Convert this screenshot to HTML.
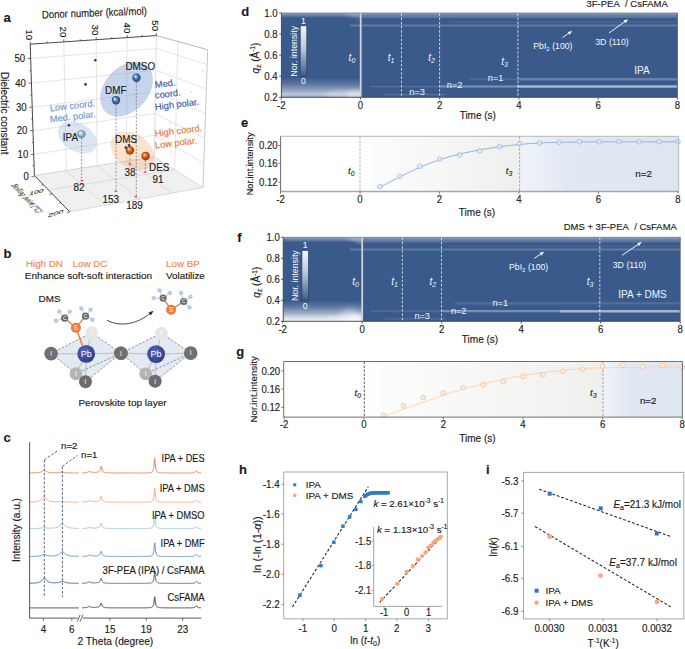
<!DOCTYPE html>
<html><head><meta charset="utf-8"><style>
html,body{margin:0;padding:0;background:#fff;overflow:hidden;width:685px;height:649px;}
svg{display:block;font-family:"Liberation Sans", sans-serif;}

</style></head><body>
<svg width="685" height="649" viewBox="0 0 685 649">
<defs>
<linearGradient id="cbar" x1="0" y1="0" x2="0" y2="1"><stop offset="0" stop-color="#f2f5fa"/><stop offset="0.45" stop-color="#b9c8de"/><stop offset="1" stop-color="#3a5a8c"/></linearGradient>
<linearGradient id="glowd" x1="0" y1="0" x2="0" y2="1"><stop offset="0" stop-color="#fff" stop-opacity="0"/><stop offset="0.3" stop-color="#fff" stop-opacity="0.15"/><stop offset="0.65" stop-color="#fff" stop-opacity="0.45"/><stop offset="0.85" stop-color="#fff" stop-opacity="0.66"/><stop offset="1" stop-color="#fff" stop-opacity="0.45"/></linearGradient>
<linearGradient id="glowf" x1="0" y1="0" x2="0" y2="1"><stop offset="0" stop-color="#fff" stop-opacity="0"/><stop offset="0.3" stop-color="#fff" stop-opacity="0.18"/><stop offset="0.6" stop-color="#fff" stop-opacity="0.5"/><stop offset="0.85" stop-color="#fff" stop-opacity="0.82"/><stop offset="1" stop-color="#fff" stop-opacity="0.9"/></linearGradient>
<linearGradient id="topband" x1="0" y1="0" x2="0" y2="1"><stop offset="0" stop-color="#1e3560" stop-opacity="0.5"/><stop offset="0.18" stop-color="#fff" stop-opacity="0.36"/><stop offset="0.6" stop-color="#fff" stop-opacity="0.2"/><stop offset="1" stop-color="#fff" stop-opacity="0"/></linearGradient>
<radialGradient id="glowC" cx="0.5" cy="0.5" r="0.5"><stop offset="0" stop-color="#fff" stop-opacity="0.95"/><stop offset="0.5" stop-color="#fff" stop-opacity="0.45"/><stop offset="1" stop-color="#fff" stop-opacity="0"/></radialGradient>
<linearGradient id="topglow" x1="0" y1="0" x2="1" y2="0"><stop offset="0" stop-color="#fff" stop-opacity="0"/><stop offset="1" stop-color="#fff" stop-opacity="0.55"/></linearGradient>
<linearGradient id="grayG" x1="0" y1="0" x2="1" y2="0"><stop offset="0" stop-color="#ffffff"/><stop offset="0.1" stop-color="#fcfcfc"/><stop offset="1" stop-color="#efefed"/></linearGradient>
<linearGradient id="blueG" x1="0" y1="0" x2="1" y2="0"><stop offset="0" stop-color="#f0f4fa"/><stop offset="0.3" stop-color="#e2e9f4"/><stop offset="1" stop-color="#dee6f2"/></linearGradient>
<radialGradient id="sphB" cx="0.5" cy="0.5" r="0.5" fx="0.33" fy="0.3"><stop offset="0" stop-color="#ffffff"/><stop offset="0.18" stop-color="#b9d0ee"/><stop offset="0.5" stop-color="#4a7bbd"/><stop offset="1" stop-color="#1f4279"/></radialGradient>
<radialGradient id="sphI" cx="0.5" cy="0.5" r="0.5" fx="0.33" fy="0.3"><stop offset="0" stop-color="#ffffff"/><stop offset="0.2" stop-color="#dbe9f2"/><stop offset="0.55" stop-color="#96bad0"/><stop offset="1" stop-color="#56809a"/></radialGradient>
<radialGradient id="sphO" cx="0.5" cy="0.5" r="0.5" fx="0.33" fy="0.3"><stop offset="0" stop-color="#fff4e8"/><stop offset="0.18" stop-color="#f8b070"/><stop offset="0.5" stop-color="#df6215"/><stop offset="1" stop-color="#8e3304"/></radialGradient>
<radialGradient id="pbG" cx="0.4" cy="0.35" r="0.7"><stop offset="0" stop-color="#5466b8"/><stop offset="1" stop-color="#2d3c8a"/></radialGradient>
<filter id="blur05" x="-5%" y="-50%" width="110%" height="200%"><feGaussianBlur stdDeviation="0.45"/></filter>
<filter id="blur1" x="-50%" y="-50%" width="200%" height="200%"><feGaussianBlur stdDeviation="1.5"/></filter>
<filter id="blur2" x="-50%" y="-50%" width="200%" height="200%"><feGaussianBlur stdDeviation="3"/></filter>
<clipPath id="clipD"><rect x="281.4" y="12.9" width="396" height="84.4"/></clipPath>
<clipPath id="clipDL"><rect x="281.4" y="12.9" width="79.3" height="84.4"/></clipPath>
<clipPath id="clipFL"><rect x="283.2" y="237.2" width="79" height="84.1"/></clipPath>
<clipPath id="clipF"><rect x="283.2" y="237.2" width="397" height="84.1"/></clipPath>

</defs>
<text x="3.50" y="22.00" font-size="13" text-anchor="start" fill="#1a1a1a" font-weight="bold" stroke="#1a1a1a" stroke-width="0.14">a</text>
<polygon points="34.40,175.50 154.20,156.80 203.00,187.50 69.70,211.80" fill="#f0f0f0"/>
<line x1="33.73" y1="154.40" x2="154.59" y2="135.16" stroke="#d4d4d4" stroke-width="0.6" />
<line x1="154.59" y1="135.16" x2="203.84" y2="162.89" stroke="#d4d4d4" stroke-width="0.6" />
<line x1="32.97" y1="130.70" x2="154.99" y2="113.51" stroke="#d4d4d4" stroke-width="0.6" />
<line x1="154.99" y1="113.51" x2="204.68" y2="138.29" stroke="#d4d4d4" stroke-width="0.6" />
<line x1="32.22" y1="107.20" x2="155.38" y2="91.87" stroke="#d4d4d4" stroke-width="0.6" />
<line x1="155.38" y1="91.87" x2="205.52" y2="113.68" stroke="#d4d4d4" stroke-width="0.6" />
<line x1="31.44" y1="83.10" x2="155.77" y2="70.23" stroke="#d4d4d4" stroke-width="0.6" />
<line x1="155.77" y1="70.23" x2="206.36" y2="89.07" stroke="#d4d4d4" stroke-width="0.6" />
<line x1="30.65" y1="58.40" x2="156.16" y2="48.59" stroke="#d4d4d4" stroke-width="0.6" />
<line x1="156.16" y1="48.59" x2="207.20" y2="64.46" stroke="#d4d4d4" stroke-width="0.6" />
<line x1="63.79" y1="41.91" x2="66.29" y2="170.52" stroke="#d4d4d4" stroke-width="0.6" />
<line x1="66.29" y1="170.52" x2="105.18" y2="205.33" stroke="#cfcfcf" stroke-width="0.6" />
<line x1="96.20" y1="39.70" x2="97.06" y2="165.72" stroke="#d4d4d4" stroke-width="0.6" />
<line x1="97.06" y1="165.72" x2="139.42" y2="199.09" stroke="#cfcfcf" stroke-width="0.6" />
<line x1="127.20" y1="37.59" x2="126.48" y2="161.13" stroke="#d4d4d4" stroke-width="0.6" />
<line x1="126.48" y1="161.13" x2="172.15" y2="193.12" stroke="#cfcfcf" stroke-width="0.6" />
<line x1="177.95" y1="41.52" x2="174.70" y2="169.69" stroke="#d4d4d4" stroke-width="0.6" />
<line x1="48.52" y1="190.02" x2="174.70" y2="169.69" stroke="#cfcfcf" stroke-width="0.6" />
<line x1="156.40" y1="35.60" x2="154.20" y2="156.80" stroke="#c8c8c8" stroke-width="0.6" />
<line x1="156.40" y1="35.60" x2="207.70" y2="49.70" stroke="#9a9a9a" stroke-width="0.7" />
<line x1="207.70" y1="49.70" x2="203.00" y2="187.50" stroke="#b0b0b0" stroke-width="0.7" />
<line x1="69.70" y1="211.80" x2="203.00" y2="187.50" stroke="#c8c8c8" stroke-width="0.6" />
<line x1="34.40" y1="175.50" x2="154.20" y2="156.80" stroke="#bdbdbd" stroke-width="0.6" />
<line x1="154.20" y1="156.80" x2="203.00" y2="187.50" stroke="#c8c8c8" stroke-width="0.6" />
<line x1="30.20" y1="44.20" x2="156.40" y2="35.60" stroke="#333" stroke-width="0.9" />
<line x1="30.20" y1="44.20" x2="34.40" y2="175.50" stroke="#333" stroke-width="0.9" />
<line x1="34.40" y1="175.50" x2="69.70" y2="211.80" stroke="#333" stroke-width="0.9" />
<line x1="30.20" y1="44.20" x2="30.20" y2="41.60" stroke="#333" stroke-width="0.7" />
<line x1="47.22" y1="43.04" x2="47.22" y2="41.44" stroke="#333" stroke-width="0.7" />
<line x1="63.79" y1="41.91" x2="63.79" y2="39.31" stroke="#333" stroke-width="0.7" />
<line x1="80.18" y1="40.79" x2="80.18" y2="39.19" stroke="#333" stroke-width="0.7" />
<line x1="96.20" y1="39.70" x2="96.20" y2="37.10" stroke="#333" stroke-width="0.7" />
<line x1="111.85" y1="38.64" x2="111.85" y2="37.04" stroke="#333" stroke-width="0.7" />
<line x1="127.20" y1="37.59" x2="127.20" y2="34.99" stroke="#333" stroke-width="0.7" />
<line x1="141.96" y1="36.58" x2="141.96" y2="34.98" stroke="#333" stroke-width="0.7" />
<line x1="156.40" y1="35.60" x2="156.40" y2="33.00" stroke="#333" stroke-width="0.7" />
<text transform="translate(26.0,29.4) rotate(90)" font-size="9.6" fill="#1a1a1a" stroke="#1a1a1a" stroke-width="0.14">10</text>
<text transform="translate(60.0,26.6) rotate(90)" font-size="9.6" fill="#1a1a1a" stroke="#1a1a1a" stroke-width="0.14">20</text>
<text transform="translate(92.3,24.6) rotate(90)" font-size="9.6" fill="#1a1a1a" stroke="#1a1a1a" stroke-width="0.14">30</text>
<text transform="translate(123.6,22.6) rotate(90)" font-size="9.6" fill="#1a1a1a" stroke="#1a1a1a" stroke-width="0.14">40</text>
<text transform="translate(152.1,20.3) rotate(90)" font-size="9.6" fill="#1a1a1a" stroke="#1a1a1a" stroke-width="0.14">50</text>
<line x1="31.44" y1="176.70" x2="34.44" y2="176.70" stroke="#333" stroke-width="0.7" />
<text x="28.94" y="180.30" font-size="10.6" text-anchor="end" fill="#1a1a1a" textLength="5.34" lengthAdjust="spacingAndGlyphs"  stroke="#1a1a1a" stroke-width="0.14">0</text>
<line x1="30.73" y1="154.40" x2="33.73" y2="154.40" stroke="#333" stroke-width="0.7" />
<text x="28.23" y="158.00" font-size="10.6" text-anchor="end" fill="#1a1a1a" textLength="10.68" lengthAdjust="spacingAndGlyphs"  stroke="#1a1a1a" stroke-width="0.14">10</text>
<line x1="29.97" y1="130.70" x2="32.97" y2="130.70" stroke="#333" stroke-width="0.7" />
<text x="27.47" y="134.30" font-size="10.6" text-anchor="end" fill="#1a1a1a" textLength="10.68" lengthAdjust="spacingAndGlyphs"  stroke="#1a1a1a" stroke-width="0.14">20</text>
<line x1="29.22" y1="107.20" x2="32.22" y2="107.20" stroke="#333" stroke-width="0.7" />
<text x="26.72" y="110.80" font-size="10.6" text-anchor="end" fill="#1a1a1a" textLength="10.68" lengthAdjust="spacingAndGlyphs"  stroke="#1a1a1a" stroke-width="0.14">30</text>
<line x1="28.44" y1="83.10" x2="31.44" y2="83.10" stroke="#333" stroke-width="0.7" />
<text x="25.94" y="86.70" font-size="10.6" text-anchor="end" fill="#1a1a1a" textLength="10.68" lengthAdjust="spacingAndGlyphs"  stroke="#1a1a1a" stroke-width="0.14">40</text>
<line x1="27.65" y1="58.40" x2="30.65" y2="58.40" stroke="#333" stroke-width="0.7" />
<text x="25.15" y="62.00" font-size="10.6" text-anchor="end" fill="#1a1a1a" textLength="10.68" lengthAdjust="spacingAndGlyphs"  stroke="#1a1a1a" stroke-width="0.14">50</text>
<line x1="32.48" y1="165.55" x2="34.08" y2="165.55" stroke="#333" stroke-width="0.6" />
<line x1="31.75" y1="142.55" x2="33.35" y2="142.55" stroke="#333" stroke-width="0.6" />
<line x1="30.99" y1="118.95" x2="32.59" y2="118.95" stroke="#333" stroke-width="0.6" />
<line x1="30.23" y1="95.15" x2="31.83" y2="95.15" stroke="#333" stroke-width="0.6" />
<line x1="29.45" y1="70.75" x2="31.05" y2="70.75" stroke="#333" stroke-width="0.6" />
<line x1="43.23" y1="184.57" x2="41.48" y2="185.02" stroke="#333" stroke-width="0.7" />
<line x1="52.05" y1="193.65" x2="49.14" y2="194.40" stroke="#333" stroke-width="0.7" />
<line x1="60.88" y1="202.73" x2="59.13" y2="203.18" stroke="#333" stroke-width="0.7" />
<line x1="69.70" y1="211.80" x2="66.79" y2="212.55" stroke="#333" stroke-width="0.7" />
<text transform="matrix(0.95,-0.22,-0.2,0.58,28.8,195.4)" font-size="9" fill="#2a2a2a" stroke="#2a2a2a" stroke-width="0.14">100</text>
<text transform="matrix(1.02,-0.3,-0.2,0.58,47.6,217.6)" font-size="9" fill="#2a2a2a" stroke="#2a2a2a" stroke-width="0.14">200</text>
<text transform="matrix(0.345,0.36,-0.88,0.19,10.5,185.2)" font-size="10.4" fill="#3a3a3a" stroke="#3a3a3a" stroke-width="0.14">Boiling point (°C)</text>
<text transform="translate(42,18.4) rotate(-2.1)" font-size="10.8" textLength="105.08" lengthAdjust="spacingAndGlyphs" fill="#1a1a1a" stroke="#1a1a1a" stroke-width="0.14">Donor number (kcal/mol)</text>
<text transform="translate(0.6,72) rotate(90)" font-size="10.1" fill="#1a1a1a" stroke="#1a1a1a" stroke-width="0.14">Dielectric constant</text>
<ellipse cx="126.5" cy="89.2" rx="31" ry="22" transform="rotate(-48 126.5 89.2)" fill="#7093cf" fill-opacity="0.4"/>
<ellipse cx="77.5" cy="137.4" rx="21" ry="14" transform="rotate(30 77.5 137.4)" fill="#8ea8d4" fill-opacity="0.3"/>
<ellipse cx="132.5" cy="151" rx="24" ry="17" transform="rotate(35 132.5 151)" fill="#f2a55f" fill-opacity="0.3"/>
<line x1="81.60" y1="138.00" x2="81.60" y2="180.60" stroke="#666" stroke-width="0.65" stroke-dasharray="2,1.5"/>
<line x1="116.00" y1="104.50" x2="116.00" y2="191.30" stroke="#666" stroke-width="0.65" stroke-dasharray="2,1.5"/>
<line x1="136.30" y1="82.00" x2="136.30" y2="196.80" stroke="#666" stroke-width="0.65" stroke-dasharray="2,1.5"/>
<line x1="129.90" y1="154.50" x2="129.90" y2="164.20" stroke="#666" stroke-width="0.65" stroke-dasharray="2,1.5"/>
<line x1="145.40" y1="160.00" x2="145.40" y2="172.10" stroke="#666" stroke-width="0.65" stroke-dasharray="2,1.5"/>
<rect x="80.5" y="180.0" width="2.6" height="1.2" fill="#e8453c"/>
<rect x="114.5" y="190.7" width="2.6" height="1.2" fill="#e8453c"/>
<rect x="134.4" y="196.2" width="2.6" height="1.2" fill="#e8453c"/>
<rect x="128.5" y="163.6" width="2.6" height="1.2" fill="#e8453c"/>
<rect x="143.9" y="171.5" width="2.6" height="1.2" fill="#e8453c"/>
<circle cx="95.3" cy="60.2" r="1.3" fill="#1f3a6a"/>
<circle cx="85.5" cy="84.4" r="1.3" fill="#1f3a6a"/>
<circle cx="68.9" cy="125.3" r="1.3" fill="#1f3a6a"/>
<circle cx="125.8" cy="147.6" r="1.3" fill="#1f3a6a"/>
<circle cx="129.1" cy="145.2" r="1.3" fill="#1f3a6a"/>
<circle cx="203" cy="70.7" r="0.8" fill="#c8c8c8"/>
<circle cx="191.2" cy="92.2" r="0.8" fill="#c8c8c8"/>
<circle cx="170.2" cy="122.7" r="0.8" fill="#c8c8c8"/>
<circle cx="171.5" cy="152" r="0.8" fill="#c8c8c8"/>
<circle cx="136.5" cy="77.7" r="4.2" fill="url(#sphB)"/>
<circle cx="116" cy="100.3" r="4.2" fill="url(#sphB)"/>
<circle cx="81.4" cy="134.1" r="4.2" fill="url(#sphI)"/>
<circle cx="130" cy="150.4" r="4.2" fill="url(#sphO)"/>
<circle cx="145.6" cy="156" r="4.2" fill="url(#sphO)"/>
<text x="125.40" y="70.20" font-size="11.0" text-anchor="start" fill="#1a1a1a" textLength="29.70" lengthAdjust="spacingAndGlyphs"  stroke="#1a1a1a" stroke-width="0.14">DMSO</text>
<text x="105.00" y="94.00" font-size="11.0" text-anchor="start" fill="#1a1a1a" textLength="21.44" lengthAdjust="spacingAndGlyphs"  stroke="#1a1a1a" stroke-width="0.14">DMF</text>
<text x="62.80" y="141.20" font-size="11.0" text-anchor="start" fill="#1a1a1a" textLength="15.22" lengthAdjust="spacingAndGlyphs"  stroke="#1a1a1a" stroke-width="0.14">IPA</text>
<text x="115.00" y="143.00" font-size="11.0" text-anchor="start" fill="#1a1a1a" textLength="22.00" lengthAdjust="spacingAndGlyphs"  stroke="#1a1a1a" stroke-width="0.14">DMS</text>
<text x="149.00" y="171.30" font-size="11.0" text-anchor="start" fill="#1a1a1a" textLength="20.36" lengthAdjust="spacingAndGlyphs"  stroke="#1a1a1a" stroke-width="0.14">DES</text>
<text x="124.40" y="175.80" font-size="11.0" text-anchor="start" fill="#1a1a1a" textLength="11.01" lengthAdjust="spacingAndGlyphs"  stroke="#1a1a1a" stroke-width="0.14">38</text>
<text x="152.40" y="182.80" font-size="11.0" text-anchor="start" fill="#1a1a1a" textLength="11.01" lengthAdjust="spacingAndGlyphs"  stroke="#1a1a1a" stroke-width="0.14">91</text>
<text x="73.50" y="190.80" font-size="11.0" text-anchor="start" fill="#1a1a1a" textLength="11.01" lengthAdjust="spacingAndGlyphs"  stroke="#1a1a1a" stroke-width="0.14">82</text>
<text x="102.50" y="202.80" font-size="11.0" text-anchor="start" fill="#1a1a1a" textLength="16.52" lengthAdjust="spacingAndGlyphs"  stroke="#1a1a1a" stroke-width="0.14">153</text>
<text x="126.30" y="208.80" font-size="11.0" text-anchor="start" fill="#1a1a1a" textLength="16.52" lengthAdjust="spacingAndGlyphs"  stroke="#1a1a1a" stroke-width="0.14">189</text>
<text transform="translate(50.2,111.4) rotate(-6.5)" font-size="9.3" fill="#6b97d6" stroke="#6b97d6" stroke-width="0.14">Low coord.</text>
<text transform="translate(50.2,122.4) rotate(-6.5)" font-size="9.3" fill="#6b97d6" stroke="#6b97d6" stroke-width="0.14">Med. polar.</text>
<text transform="translate(155.3,88.0) rotate(-7)" font-size="9.3" fill="#3c5aa6" stroke="#3c5aa6" stroke-width="0.14">Med.</text>
<text transform="translate(155.3,98.6) rotate(-7)" font-size="9.3" fill="#3c5aa6" stroke="#3c5aa6" stroke-width="0.14">coord.</text>
<text transform="translate(155.3,110.2) rotate(-7)" font-size="9.3" fill="#3c5aa6" stroke="#3c5aa6" stroke-width="0.14">High polar.</text>
<text transform="translate(155.3,136.8) rotate(-7)" font-size="9.3" fill="#f0763a" stroke="#f0763a" stroke-width="0.14">High coord.</text>
<text transform="translate(155.3,148.6) rotate(-7)" font-size="9.3" fill="#f0763a" stroke="#f0763a" stroke-width="0.14">Low polar.</text>
<text x="3.60" y="257.80" font-size="13" text-anchor="start" fill="#1a1a1a" font-weight="bold" stroke="#1a1a1a" stroke-width="0.14">b</text>
<text x="25.90" y="266.80" font-size="9.8" text-anchor="start" fill="#f5864f" textLength="37.03" lengthAdjust="spacingAndGlyphs"  stroke="#f5864f" stroke-width="0.14">High DN</text>
<text x="72.60" y="266.80" font-size="9.8" text-anchor="start" fill="#f5864f" textLength="34.85" lengthAdjust="spacingAndGlyphs"  stroke="#f5864f" stroke-width="0.14">Low DC</text>
<text x="24.80" y="278.90" font-size="9.7" text-anchor="start" fill="#1a1a1a" textLength="127.36" lengthAdjust="spacingAndGlyphs"  stroke="#1a1a1a" stroke-width="0.14">Enhance soft-soft interaction</text>
<text x="166.10" y="267.30" font-size="9.7" text-anchor="start" fill="#f5864f" textLength="33.77" lengthAdjust="spacingAndGlyphs"  stroke="#f5864f" stroke-width="0.14">Low BP</text>
<text x="166.10" y="279.40" font-size="9.6" text-anchor="start" fill="#1a1a1a" textLength="38.68" lengthAdjust="spacingAndGlyphs"  stroke="#1a1a1a" stroke-width="0.14">Volatilize</text>
<text x="38.60" y="302.10" font-size="9.8" text-anchor="start" fill="#1a1a1a" textLength="22.00" lengthAdjust="spacingAndGlyphs"  stroke="#1a1a1a" stroke-width="0.14">DMS</text>
<text x="78.40" y="405.90" font-size="9.8" text-anchor="start" fill="#1a1a1a" textLength="88.25" lengthAdjust="spacingAndGlyphs"  stroke="#1a1a1a" stroke-width="0.14">Perovskite top layer</text>
<polygon points="51.10,353.60 91.60,332.70 120.90,353.20 85.50,381.70 75.90,373.70" fill="#e3eaf4"/>
<line x1="51.10" y1="353.60" x2="91.60" y2="332.70" stroke="#686868" stroke-width="0.7" stroke-dasharray="2.4,1.6"/>
<line x1="91.60" y1="332.70" x2="120.90" y2="353.20" stroke="#686868" stroke-width="0.7" stroke-dasharray="2.4,1.6"/>
<line x1="51.10" y1="353.60" x2="75.90" y2="373.70" stroke="#686868" stroke-width="0.7" stroke-dasharray="2.4,1.6"/>
<line x1="120.90" y1="353.20" x2="85.50" y2="381.70" stroke="#686868" stroke-width="0.7" stroke-dasharray="2.4,1.6"/>
<line x1="120.90" y1="353.20" x2="75.90" y2="373.70" stroke="#686868" stroke-width="0.7" stroke-dasharray="2.4,1.6"/>
<line x1="75.90" y1="373.70" x2="85.50" y2="381.70" stroke="#686868" stroke-width="0.7" stroke-dasharray="2.4,1.6"/>
<line x1="86.20" y1="353.90" x2="51.10" y2="353.60" stroke="#cbc5bd" stroke-width="1.3" />
<line x1="86.20" y1="353.90" x2="120.90" y2="353.20" stroke="#cbc5bd" stroke-width="1.3" />
<line x1="86.20" y1="353.90" x2="85.50" y2="381.70" stroke="#cbc5bd" stroke-width="1.3" />
<line x1="86.20" y1="353.90" x2="91.60" y2="332.70" stroke="#cbc5bd" stroke-width="1.3" />
<line x1="86.20" y1="353.90" x2="75.90" y2="373.70" stroke="#cbc5bd" stroke-width="1.3" />
<polygon points="120.90,353.20 161.50,333.10 190.70,353.10 155.10,381.20 145.70,373.80" fill="#e3eaf4"/>
<line x1="120.90" y1="353.20" x2="161.50" y2="333.10" stroke="#686868" stroke-width="0.7" stroke-dasharray="2.4,1.6"/>
<line x1="161.50" y1="333.10" x2="190.70" y2="353.10" stroke="#686868" stroke-width="0.7" stroke-dasharray="2.4,1.6"/>
<line x1="120.90" y1="353.20" x2="145.70" y2="373.80" stroke="#686868" stroke-width="0.7" stroke-dasharray="2.4,1.6"/>
<line x1="190.70" y1="353.10" x2="155.10" y2="381.20" stroke="#686868" stroke-width="0.7" stroke-dasharray="2.4,1.6"/>
<line x1="190.70" y1="353.10" x2="145.70" y2="373.80" stroke="#686868" stroke-width="0.7" stroke-dasharray="2.4,1.6"/>
<line x1="145.70" y1="373.80" x2="155.10" y2="381.20" stroke="#686868" stroke-width="0.7" stroke-dasharray="2.4,1.6"/>
<line x1="156.10" y1="354.10" x2="120.90" y2="353.20" stroke="#cbc5bd" stroke-width="1.3" />
<line x1="156.10" y1="354.10" x2="190.70" y2="353.10" stroke="#cbc5bd" stroke-width="1.3" />
<line x1="156.10" y1="354.10" x2="155.10" y2="381.20" stroke="#cbc5bd" stroke-width="1.3" />
<line x1="156.10" y1="354.10" x2="161.50" y2="333.10" stroke="#cbc5bd" stroke-width="1.3" />
<line x1="156.10" y1="354.10" x2="145.70" y2="373.80" stroke="#cbc5bd" stroke-width="1.3" />
<circle cx="91.6" cy="332.7" r="6.3" fill="#e6e6e6"/>
<text x="91.60" y="335.04" font-size="6.5" text-anchor="middle" fill="#fff" >I</text>
<circle cx="161.5" cy="333.1" r="6.3" fill="#e6e6e6"/>
<text x="161.50" y="335.44" font-size="6.5" text-anchor="middle" fill="#fff" >I</text>
<circle cx="51.1" cy="353.6" r="6.8" fill="#707070"/>
<text x="51.10" y="355.94" font-size="6.5" text-anchor="middle" fill="#fff" >I</text>
<circle cx="120.9" cy="353.2" r="6.8" fill="#707070"/>
<text x="120.90" y="355.54" font-size="6.5" text-anchor="middle" fill="#fff" >I</text>
<circle cx="86.2" cy="353.9" r="8.9" fill="url(#pbG)"/>
<text x="86.20" y="357.14" font-size="9" text-anchor="middle" fill="#fff" >Pb</text>
<circle cx="75.9" cy="373.7" r="6.4" fill="#b4b4b4"/>
<text x="75.90" y="376.04" font-size="6.5" text-anchor="middle" fill="#fff" >I</text>
<circle cx="85.5" cy="381.7" r="6.5" fill="#6c6c6c"/>
<text x="85.50" y="384.04" font-size="6.5" text-anchor="middle" fill="#fff" >I</text>
<circle cx="120.9" cy="353.2" r="6.8" fill="#707070"/>
<text x="120.90" y="355.54" font-size="6.5" text-anchor="middle" fill="#fff" >I</text>
<circle cx="190.7" cy="353.1" r="6.8" fill="#707070"/>
<text x="190.70" y="355.44" font-size="6.5" text-anchor="middle" fill="#fff" >I</text>
<circle cx="156.1" cy="354.1" r="8.9" fill="url(#pbG)"/>
<text x="156.10" y="357.34" font-size="9" text-anchor="middle" fill="#fff" >Pb</text>
<circle cx="145.7" cy="373.8" r="6.4" fill="#b4b4b4"/>
<text x="145.70" y="376.14" font-size="6.5" text-anchor="middle" fill="#fff" >I</text>
<circle cx="155.1" cy="381.2" r="6.5" fill="#6c6c6c"/>
<text x="155.10" y="383.54" font-size="6.5" text-anchor="middle" fill="#fff" >I</text>
<line x1="64.70" y1="318.20" x2="59.30" y2="311.60" stroke="#b9cde8" stroke-width="1" />
<line x1="64.70" y1="318.20" x2="69.80" y2="311.60" stroke="#b9cde8" stroke-width="1" />
<line x1="64.70" y1="318.20" x2="55.90" y2="320.80" stroke="#b9cde8" stroke-width="1" />
<line x1="85.50" y1="316.20" x2="81.30" y2="308.50" stroke="#b9cde8" stroke-width="1" />
<line x1="85.50" y1="316.20" x2="90.60" y2="309.60" stroke="#b9cde8" stroke-width="1" />
<line x1="85.50" y1="316.20" x2="92.40" y2="319.70" stroke="#b9cde8" stroke-width="1" />
<line x1="64.70" y1="318.20" x2="75.90" y2="327.70" stroke="#f07a3a" stroke-width="1.3" />
<line x1="85.50" y1="316.20" x2="75.90" y2="327.70" stroke="#f07a3a" stroke-width="1.3" />
<line x1="75.90" y1="327.70" x2="82.50" y2="345.50" stroke="#f07a3a" stroke-width="1.5" />
<circle cx="59.3" cy="311.6" r="2.2" fill="#b8cbe6"/>
<circle cx="69.8" cy="311.6" r="2.2" fill="#b8cbe6"/>
<circle cx="55.9" cy="320.8" r="2.2" fill="#b8cbe6"/>
<circle cx="81.3" cy="308.5" r="2.2" fill="#b8cbe6"/>
<circle cx="90.6" cy="309.6" r="2.2" fill="#b8cbe6"/>
<circle cx="92.4" cy="319.7" r="2.2" fill="#b8cbe6"/>
<circle cx="64.7" cy="318.2" r="3.6" fill="#6a6a6a"/>
<text x="64.70" y="320.00" font-size="5" text-anchor="middle" fill="#fff" >C</text>
<circle cx="85.5" cy="316.2" r="3.6" fill="#6a6a6a"/>
<text x="85.50" y="318.00" font-size="5" text-anchor="middle" fill="#fff" >C</text>
<circle cx="75.9" cy="327.7" r="5" fill="#f07a3a"/>
<text x="75.90" y="330.04" font-size="6.5" text-anchor="middle" fill="#fff" >S</text>
<line x1="163.10" y1="298.10" x2="159.50" y2="290.40" stroke="#b9cde8" stroke-width="1" />
<line x1="163.10" y1="298.10" x2="169.70" y2="293.00" stroke="#b9cde8" stroke-width="1" />
<line x1="163.10" y1="298.10" x2="153.70" y2="298.10" stroke="#b9cde8" stroke-width="1" />
<line x1="183.70" y1="301.50" x2="181.10" y2="293.00" stroke="#b9cde8" stroke-width="1" />
<line x1="183.70" y1="301.50" x2="190.50" y2="296.70" stroke="#b9cde8" stroke-width="1" />
<line x1="183.70" y1="301.50" x2="189.50" y2="307.50" stroke="#b9cde8" stroke-width="1" />
<line x1="163.10" y1="298.10" x2="171.10" y2="309.70" stroke="#f07a3a" stroke-width="1.3" />
<line x1="183.70" y1="301.50" x2="171.10" y2="309.70" stroke="#f07a3a" stroke-width="1.3" />
<circle cx="159.5" cy="290.4" r="2.2" fill="#b8cbe6"/>
<circle cx="169.7" cy="293" r="2.2" fill="#b8cbe6"/>
<circle cx="153.7" cy="298.1" r="2.2" fill="#b8cbe6"/>
<circle cx="181.1" cy="293" r="2.2" fill="#b8cbe6"/>
<circle cx="190.5" cy="296.7" r="2.2" fill="#b8cbe6"/>
<circle cx="189.5" cy="307.5" r="2.2" fill="#b8cbe6"/>
<circle cx="163.1" cy="298.1" r="3.6" fill="#6a6a6a"/>
<text x="163.10" y="299.90" font-size="5" text-anchor="middle" fill="#fff" >C</text>
<circle cx="183.7" cy="301.5" r="3.6" fill="#6a6a6a"/>
<text x="183.70" y="303.30" font-size="5" text-anchor="middle" fill="#fff" >C</text>
<circle cx="171.1" cy="309.7" r="5" fill="#f07a3a"/>
<text x="171.10" y="312.04" font-size="6.5" text-anchor="middle" fill="#fff" >S</text>
<path d="M107,320.3 C117,325.5 133,327 150.5,313.2" fill="none" stroke="#1f3550" stroke-width="0.9"/>
<path d="M153.6,310.8 L148.3,312.4 L150.9,315.4 Z" fill="#1f3550"/>
<text x="3.40" y="442.20" font-size="13" text-anchor="start" fill="#1a1a1a" font-weight="bold" stroke="#1a1a1a" stroke-width="0.14">c</text>
<polyline points="29.8,472.91 30.3,472.91 30.8,472.90 31.3,472.89 31.8,472.88 32.3,472.88 32.8,472.87 33.3,472.85 33.8,472.84 34.3,472.83 34.8,472.81 35.3,472.79 35.8,472.77 36.3,472.74 36.8,472.71 37.3,472.67 37.8,472.63 38.3,472.58 38.8,472.51 39.3,472.43 39.8,472.34 40.3,472.21 40.8,472.06 41.3,471.87 41.8,471.63 42.3,471.35 42.8,471.03 43.3,470.72 43.8,470.47 44.3,470.38 44.8,470.47 45.3,470.71 45.8,471.02 46.3,471.34 46.8,471.62 47.3,471.85 47.8,472.04 48.3,472.19 48.8,472.31 49.3,472.41 49.8,472.48 50.3,472.54 50.8,472.59 51.3,472.63 51.8,472.66 52.3,472.69 52.8,472.71 53.3,472.72 53.8,472.73 54.3,472.74 54.8,472.74 55.3,472.74 55.8,472.74 56.3,472.73 56.8,472.71 57.3,472.69 57.8,472.67 58.3,472.63 58.8,472.59 59.3,472.54 59.8,472.47 60.3,472.40 60.8,472.31 61.3,472.24 61.8,472.17 62.3,472.15 62.8,472.16 63.3,472.22 63.8,472.30 64.3,472.39 64.8,472.47 65.3,472.55 65.8,472.61 66.3,472.67 66.8,472.71 67.3,472.75 67.8,472.78 68.3,472.81 68.8,472.83 69.3,472.84 69.8,472.86 70.3,472.87 70.8,472.88 71.3,472.89 71.8,472.90 72.3,472.91 72.8,472.92 73.3,472.92 73.8,472.93 74.3,472.93 74.8,472.94 75.3,472.94 75.8,472.94 76.3,472.95 76.8,472.95 77.3,472.95 77.8,472.96 78.3,472.96 78.8,472.96" fill="none" stroke="#f2834f" stroke-width="1"/>
<polyline points="82.0,472.86 82.2,472.86 82.5,472.85 82.8,472.84 83.0,472.83 83.2,472.82 83.5,472.81 83.8,472.80 84.0,472.78 84.2,472.77 84.5,472.75 84.8,472.73 85.0,472.71 85.2,472.68 85.5,472.65 85.8,472.61 86.0,472.57 86.2,472.53 86.5,472.47 86.8,472.41 87.0,472.34 87.2,472.25 87.5,472.15 87.8,472.03 88.0,471.90 88.2,471.76 88.5,471.61 88.8,471.47 89.0,471.35 89.2,471.29 89.5,471.27 89.8,471.32 90.0,471.42 90.2,471.54 90.5,471.68 90.8,471.81 91.0,471.93 91.2,472.04 91.5,472.13 91.8,472.20 92.0,472.26 92.2,472.31 92.5,472.35 92.8,472.38 93.0,472.40 93.2,472.42 93.5,472.43 93.8,472.43 94.0,472.43 94.2,472.43 94.5,472.42 94.8,472.41 95.0,472.39 95.2,472.37 95.5,472.35 95.8,472.32 96.0,472.29 96.2,472.26 96.5,472.23 96.8,472.19 97.0,472.15 97.2,472.11 97.5,472.06 97.8,472.01 98.0,471.95 98.2,471.87 98.5,471.78 98.8,471.67 99.0,471.53 99.2,471.33 99.5,471.06 99.8,470.69 100.0,470.18 100.2,469.45 100.5,468.48 100.8,467.34 101.0,466.35 101.2,466.08 101.5,466.74 101.8,467.89 102.0,469.03 102.2,469.94 102.5,470.61 102.8,471.10 103.0,471.45 103.2,471.72 103.5,471.92 103.8,472.08 104.0,472.20 104.2,472.30 104.5,472.38 104.8,472.45 105.0,472.50 105.2,472.55 105.5,472.59 105.8,472.62 106.0,472.65 106.2,472.68 106.5,472.70 106.8,472.72 107.0,472.74 107.2,472.76 107.5,472.77 107.8,472.79 108.0,472.80 108.2,472.81 108.5,472.82 108.8,472.83 109.0,472.84 109.2,472.85 109.5,472.85 109.8,472.86 110.0,472.87 110.2,472.87 110.5,472.88 110.8,472.88 111.0,472.89 111.2,472.89 111.5,472.89 111.8,472.90 112.0,472.90 112.2,472.91 112.5,472.91 112.8,472.91 113.0,472.91 113.2,472.92 113.5,472.92 113.8,472.92 114.0,472.92 114.2,472.93 114.5,472.93 114.8,472.93 115.0,472.93 115.2,472.93 115.5,472.94 115.8,472.94 116.0,472.94 116.2,472.94 116.5,472.94 116.8,472.94 117.0,472.94 117.2,472.95 117.5,472.95 117.8,472.95 118.0,472.95 118.2,472.95 118.5,472.95 118.8,472.95 119.0,472.95 119.2,472.95 119.5,472.95 119.8,472.96 120.0,472.96 120.2,472.96 120.5,472.96 120.8,472.96 121.0,472.96 121.2,472.96 121.5,472.96 121.8,472.96 122.0,472.96 122.2,472.96 122.5,472.96 122.8,472.96 123.0,472.96 123.2,472.96 123.5,472.96 123.8,472.96 124.0,472.96 124.2,472.96 124.5,472.97 124.8,472.97 125.0,472.97 125.2,472.97 125.5,472.97 125.8,472.97 126.0,472.97 126.2,472.97 126.5,472.97 126.8,472.97 127.0,472.97 127.2,472.97 127.5,472.97 127.8,472.97 128.0,472.97 128.2,472.97 128.5,472.97 128.8,472.97 129.0,472.97 129.2,472.97 129.5,472.97 129.8,472.97 130.0,472.97 130.2,472.97 130.5,472.97 130.8,472.97 131.0,472.97 131.2,472.97 131.5,472.97 131.8,472.97 132.0,472.97 132.2,472.97 132.5,472.97 132.8,472.97 133.0,472.97 133.2,472.97 133.5,472.97 133.8,472.97 134.0,472.97 134.2,472.97 134.5,472.97 134.8,472.97 135.0,472.97 135.2,472.96 135.5,472.96 135.8,472.96 136.0,472.96 136.2,472.96 136.5,472.96 136.8,472.96 137.0,472.96 137.2,472.96 137.5,472.96 137.8,472.96 138.0,472.96 138.2,472.96 138.5,472.96 138.8,472.96 139.0,472.96 139.2,472.95 139.5,472.95 139.8,472.95 140.0,472.95 140.2,472.95 140.5,472.95 140.8,472.95 141.0,472.95 141.2,472.94 141.5,472.94 141.8,472.94 142.0,472.94 142.2,472.94 142.5,472.93 142.8,472.93 143.0,472.93 143.2,472.93 143.5,472.92 143.8,472.92 144.0,472.92 144.2,472.91 144.5,472.91 144.8,472.91 145.0,472.90 145.2,472.90 145.5,472.89 145.8,472.89 146.0,472.88 146.2,472.88 146.5,472.87 146.8,472.86 147.0,472.85 147.2,472.84 147.5,472.83 147.8,472.82 148.0,472.81 148.2,472.79 148.5,472.78 148.8,472.76 149.0,472.74 149.2,472.72 149.5,472.69 149.8,472.66 150.0,472.62 150.2,472.58 150.5,472.54 150.8,472.48 151.0,472.41 151.2,472.32 151.5,472.22 151.8,472.09 152.0,471.93 152.2,471.72 152.5,471.45 152.8,471.09 153.0,470.58 153.2,469.87 153.5,468.84 153.8,467.31 154.0,465.08 154.2,462.11 154.5,459.18 154.8,458.26 155.0,460.23 155.2,463.37 155.5,466.07 155.8,467.99 156.0,469.30 156.2,470.19 156.5,470.80 156.8,471.25 157.0,471.57 157.2,471.82 157.5,472.00 157.8,472.15 158.0,472.27 158.2,472.36 158.5,472.44 158.8,472.50 159.0,472.56 159.2,472.60 159.5,472.64 159.8,472.67 160.0,472.70 160.2,472.73 160.5,472.75 160.8,472.77 161.0,472.79 161.2,472.80 161.5,472.82 161.8,472.83 162.0,472.84 162.2,472.85 162.5,472.86 162.8,472.87 163.0,472.87 163.2,472.88 163.5,472.89 163.8,472.89 164.0,472.90 164.2,472.90 164.5,472.91 164.8,472.91 165.0,472.92 165.2,472.92 165.5,472.92 165.8,472.93 166.0,472.93 166.2,472.93 166.5,472.93 166.8,472.94 167.0,472.94 167.2,472.94 167.5,472.94 167.8,472.94 168.0,472.95 168.2,472.95 168.5,472.95 168.8,472.95 169.0,472.95 169.2,472.95 169.5,472.96 169.8,472.96 170.0,472.96 170.2,472.96 170.5,472.96 170.8,472.96 171.0,472.96 171.2,472.96 171.5,472.96 171.8,472.96 172.0,472.97 172.2,472.97 172.5,472.97 172.8,472.97 173.0,472.97 173.2,472.97 173.5,472.97 173.8,472.97 174.0,472.97 174.2,472.97 174.5,472.97 174.8,472.97 175.0,472.97 175.2,472.97 175.5,472.97 175.8,472.97 176.0,472.97 176.2,472.97 176.5,472.97 176.8,472.97 177.0,472.97 177.2,472.97 177.5,472.97 177.8,472.97 178.0,472.98 178.2,472.98 178.5,472.98 178.8,472.98 179.0,472.98 179.2,472.98 179.5,472.98 179.8,472.98 180.0,472.98 180.2,472.98 180.5,472.98 180.8,472.98 181.0,472.98 181.2,472.98 181.5,472.98 181.8,472.98 182.0,472.98 182.2,472.97 182.5,472.97 182.8,472.97 183.0,472.97 183.2,472.97 183.5,472.97 183.8,472.97 184.0,472.97 184.2,472.97 184.5,472.97 184.8,472.97 185.0,472.97 185.2,472.97 185.5,472.97 185.8,472.97 186.0,472.97 186.2,472.97 186.5,472.97 186.8,472.96 187.0,472.96 187.2,472.96 187.5,472.96 187.8,472.96 188.0,472.96 188.2,472.96 188.5,472.95 188.8,472.95 189.0,472.95 189.2,472.95 189.5,472.94 189.8,472.94 190.0,472.93 190.2,472.93 190.5,472.92 190.8,472.92 191.0,472.91 191.2,472.90 191.5,472.90 191.8,472.89 192.0,472.87 192.2,472.86 192.5,472.84 192.8,472.82 193.0,472.80 193.2,472.77 193.5,472.73 193.8,472.69 194.0,472.63 194.2,472.55 194.5,472.45 194.8,472.32 195.0,472.14 195.2,471.90 195.5,471.59 195.8,471.23 196.0,470.88 196.2,470.70 196.5,470.78 196.8,471.08 197.0,471.45 197.2,471.78 197.5,472.05 197.8,472.25 198.0,472.40 198.2,472.51 198.5,472.60 198.8,472.67 199.0,472.72 199.2,472.76 199.5,472.79 199.8,472.82 200.0,472.84 200.2,472.86 200.5,472.87 200.8,472.88 201.0,472.89" fill="none" stroke="#f2834f" stroke-width="1"/>
<text x="204.60" y="462.20" font-size="10.2" text-anchor="end" fill="#1a1a1a" textLength="42.99" lengthAdjust="spacingAndGlyphs"  stroke="#1a1a1a" stroke-width="0.14">IPA + DES</text>
<polyline points="29.8,502.02 30.3,502.01 30.8,501.99 31.3,501.98 31.8,501.96 32.3,501.94 32.8,501.92 33.3,501.90 33.8,501.87 34.3,501.84 34.8,501.80 35.3,501.76 35.8,501.71 36.3,501.66 36.8,501.59 37.3,501.51 37.8,501.42 38.3,501.31 38.8,501.17 39.3,501.00 39.8,500.79 40.3,500.53 40.8,500.20 41.3,499.79 41.8,499.28 42.3,498.67 42.8,497.98 43.3,497.31 43.8,496.78 44.3,496.58 44.8,496.78 45.3,497.30 45.8,497.98 46.3,498.66 46.8,499.27 47.3,499.78 47.8,500.18 48.3,500.51 48.8,500.77 49.3,500.98 49.8,501.14 50.3,501.28 50.8,501.39 51.3,501.48 51.8,501.55 52.3,501.62 52.8,501.67 53.3,501.71 53.8,501.74 54.3,501.77 54.8,501.80 55.3,501.81 55.8,501.82 56.3,501.83 56.8,501.83 57.3,501.83 57.8,501.82 58.3,501.80 58.8,501.78 59.3,501.75 59.8,501.70 60.3,501.65 60.8,501.60 61.3,501.54 61.8,501.50 62.3,501.49 62.8,501.50 63.3,501.55 63.8,501.61 64.3,501.68 64.8,501.75 65.3,501.81 65.8,501.86 66.3,501.90 66.8,501.94 67.3,501.97 67.8,501.99 68.3,502.01 68.8,502.03 69.3,502.04 69.8,502.06 70.3,502.07 70.8,502.08 71.3,502.09 71.8,502.09 72.3,502.10 72.8,502.11 73.3,502.11 73.8,502.12 74.3,502.12 74.8,502.13 75.3,502.13 75.8,502.13 76.3,502.14 76.8,502.14 77.3,502.14 77.8,502.14 78.3,502.15 78.8,502.15" fill="none" stroke="#f7ab8a" stroke-width="1"/>
<polyline points="82.0,502.08 82.2,502.07 82.5,502.06 82.8,502.06 83.0,502.05 83.2,502.04 83.5,502.03 83.8,502.02 84.0,502.00 84.2,501.99 84.5,501.97 84.8,501.96 85.0,501.94 85.2,501.91 85.5,501.89 85.8,501.86 86.0,501.82 86.2,501.78 86.5,501.73 86.8,501.68 87.0,501.61 87.2,501.54 87.5,501.45 87.8,501.34 88.0,501.23 88.2,501.10 88.5,500.97 88.8,500.85 89.0,500.75 89.2,500.69 89.5,500.68 89.8,500.72 90.0,500.80 90.2,500.91 90.5,501.03 90.8,501.14 91.0,501.25 91.2,501.34 91.5,501.42 91.8,501.48 92.0,501.53 92.2,501.58 92.5,501.61 92.8,501.63 93.0,501.65 93.2,501.66 93.5,501.67 93.8,501.67 94.0,501.67 94.2,501.66 94.5,501.65 94.8,501.64 95.0,501.62 95.2,501.60 95.5,501.58 95.8,501.55 96.0,501.53 96.2,501.50 96.5,501.46 96.8,501.43 97.0,501.39 97.2,501.35 97.5,501.30 97.8,501.25 98.0,501.20 98.2,501.13 98.5,501.05 98.8,500.95 99.0,500.82 99.2,500.64 99.5,500.40 99.8,500.07 100.0,499.60 100.2,498.94 100.5,498.06 100.8,497.02 101.0,496.13 101.2,495.88 101.5,496.48 101.8,497.53 102.0,498.57 102.2,499.39 102.5,500.01 102.8,500.45 103.0,500.78 103.2,501.02 103.5,501.20 103.8,501.35 104.0,501.46 104.2,501.55 104.5,501.62 104.8,501.69 105.0,501.74 105.2,501.78 105.5,501.82 105.8,501.85 106.0,501.88 106.2,501.90 106.5,501.92 106.8,501.94 107.0,501.96 107.2,501.97 107.5,501.99 107.8,502.00 108.0,502.01 108.2,502.02 108.5,502.03 108.8,502.04 109.0,502.05 109.2,502.05 109.5,502.06 109.8,502.07 110.0,502.07 110.2,502.08 110.5,502.08 110.8,502.09 111.0,502.09 111.2,502.10 111.5,502.10 111.8,502.10 112.0,502.11 112.2,502.11 112.5,502.11 112.8,502.12 113.0,502.12 113.2,502.12 113.5,502.12 113.8,502.13 114.0,502.13 114.2,502.13 114.5,502.13 114.8,502.13 115.0,502.14 115.2,502.14 115.5,502.14 115.8,502.14 116.0,502.14 116.2,502.14 116.5,502.15 116.8,502.15 117.0,502.15 117.2,502.15 117.5,502.15 117.8,502.15 118.0,502.15 118.2,502.15 118.5,502.15 118.8,502.15 119.0,502.16 119.2,502.16 119.5,502.16 119.8,502.16 120.0,502.16 120.2,502.16 120.5,502.16 120.8,502.16 121.0,502.16 121.2,502.16 121.5,502.16 121.8,502.16 122.0,502.16 122.2,502.16 122.5,502.16 122.8,502.16 123.0,502.17 123.2,502.17 123.5,502.17 123.8,502.17 124.0,502.17 124.2,502.17 124.5,502.17 124.8,502.17 125.0,502.17 125.2,502.17 125.5,502.17 125.8,502.17 126.0,502.17 126.2,502.17 126.5,502.17 126.8,502.17 127.0,502.17 127.2,502.17 127.5,502.17 127.8,502.17 128.0,502.17 128.2,502.17 128.5,502.17 128.8,502.17 129.0,502.17 129.2,502.17 129.5,502.17 129.8,502.17 130.0,502.17 130.2,502.17 130.5,502.17 130.8,502.17 131.0,502.17 131.2,502.17 131.5,502.17 131.8,502.17 132.0,502.17 132.2,502.17 132.5,502.17 132.8,502.17 133.0,502.17 133.2,502.17 133.5,502.17 133.8,502.17 134.0,502.17 134.2,502.17 134.5,502.17 134.8,502.17 135.0,502.17 135.2,502.17 135.5,502.17 135.8,502.17 136.0,502.17 136.2,502.16 136.5,502.16 136.8,502.16 137.0,502.16 137.2,502.16 137.5,502.16 137.8,502.16 138.0,502.16 138.2,502.16 138.5,502.16 138.8,502.16 139.0,502.16 139.2,502.16 139.5,502.16 139.8,502.15 140.0,502.15 140.2,502.15 140.5,502.15 140.8,502.15 141.0,502.15 141.2,502.15 141.5,502.15 141.8,502.14 142.0,502.14 142.2,502.14 142.5,502.14 142.8,502.14 143.0,502.13 143.2,502.13 143.5,502.13 143.8,502.13 144.0,502.12 144.2,502.12 144.5,502.12 144.8,502.11 145.0,502.11 145.2,502.10 145.5,502.10 145.8,502.09 146.0,502.09 146.2,502.08 146.5,502.08 146.8,502.07 147.0,502.06 147.2,502.05 147.5,502.04 147.8,502.03 148.0,502.02 148.2,502.01 148.5,501.99 148.8,501.97 149.0,501.95 149.2,501.93 149.5,501.91 149.8,501.88 150.0,501.85 150.2,501.81 150.5,501.76 150.8,501.71 151.0,501.64 151.2,501.56 151.5,501.46 151.8,501.34 152.0,501.19 152.2,500.99 152.5,500.74 152.8,500.39 153.0,499.91 153.2,499.24 153.5,498.26 153.8,496.82 154.0,494.71 154.2,491.90 154.5,489.12 154.8,488.26 155.0,490.12 155.2,493.09 155.5,495.64 155.8,497.46 156.0,498.70 156.2,499.54 156.5,500.12 156.8,500.54 157.0,500.85 157.2,501.08 157.5,501.26 157.8,501.40 158.0,501.51 158.2,501.60 158.5,501.67 158.8,501.73 159.0,501.78 159.2,501.82 159.5,501.86 159.8,501.89 160.0,501.92 160.2,501.94 160.5,501.96 160.8,501.98 161.0,502.00 161.2,502.01 161.5,502.03 161.8,502.04 162.0,502.05 162.2,502.06 162.5,502.07 162.8,502.07 163.0,502.08 163.2,502.09 163.5,502.09 163.8,502.10 164.0,502.10 164.2,502.11 164.5,502.11 164.8,502.12 165.0,502.12 165.2,502.12 165.5,502.13 165.8,502.13 166.0,502.13 166.2,502.14 166.5,502.14 166.8,502.14 167.0,502.14 167.2,502.14 167.5,502.15 167.8,502.15 168.0,502.15 168.2,502.15 168.5,502.15 168.8,502.15 169.0,502.16 169.2,502.16 169.5,502.16 169.8,502.16 170.0,502.16 170.2,502.16 170.5,502.16 170.8,502.16 171.0,502.16 171.2,502.16 171.5,502.17 171.8,502.17 172.0,502.17 172.2,502.17 172.5,502.17 172.8,502.17 173.0,502.17 173.2,502.17 173.5,502.17 173.8,502.17 174.0,502.17 174.2,502.17 174.5,502.17 174.8,502.17 175.0,502.17 175.2,502.17 175.5,502.17 175.8,502.17 176.0,502.18 176.2,502.18 176.5,502.18 176.8,502.18 177.0,502.18 177.2,502.18 177.5,502.18 177.8,502.18 178.0,502.18 178.2,502.18 178.5,502.18 178.8,502.18 179.0,502.18 179.2,502.18 179.5,502.18 179.8,502.18 180.0,502.18 180.2,502.18 180.5,502.18 180.8,502.18 181.0,502.18 181.2,502.18 181.5,502.18 181.8,502.18 182.0,502.18 182.2,502.18 182.5,502.18 182.8,502.18 183.0,502.18 183.2,502.18 183.5,502.18 183.8,502.18 184.0,502.18 184.2,502.18 184.5,502.17 184.8,502.17 185.0,502.17 185.2,502.17 185.5,502.17 185.8,502.17 186.0,502.17 186.2,502.17 186.5,502.17 186.8,502.17 187.0,502.17 187.2,502.17 187.5,502.17 187.8,502.16 188.0,502.16 188.2,502.16 188.5,502.16 188.8,502.16 189.0,502.15 189.2,502.15 189.5,502.15 189.8,502.15 190.0,502.14 190.2,502.14 190.5,502.13 190.8,502.13 191.0,502.12 191.2,502.12 191.5,502.11 191.8,502.10 192.0,502.09 192.2,502.08 192.5,502.06 192.8,502.05 193.0,502.02 193.2,502.00 193.5,501.97 193.8,501.93 194.0,501.88 194.2,501.81 194.5,501.72 194.8,501.61 195.0,501.45 195.2,501.24 195.5,500.97 195.8,500.66 196.0,500.36 196.2,500.20 196.5,500.27 196.8,500.53 197.0,500.85 197.2,501.14 197.5,501.37 197.8,501.55 198.0,501.68 198.2,501.78 198.5,501.85 198.8,501.91 199.0,501.95 199.2,501.99 199.5,502.02 199.8,502.04 200.0,502.06 200.2,502.07 200.5,502.09 200.8,502.10 201.0,502.11" fill="none" stroke="#f7ab8a" stroke-width="1"/>
<text x="204.60" y="491.60" font-size="10.2" text-anchor="end" fill="#1a1a1a" textLength="44.81" lengthAdjust="spacingAndGlyphs"  stroke="#1a1a1a" stroke-width="0.14">IPA + DMS</text>
<polyline points="29.8,528.53 30.3,528.52 30.8,528.52 31.3,528.51 31.8,528.51 32.3,528.50 32.8,528.50 33.3,528.49 33.8,528.49 34.3,528.48 34.8,528.47 35.3,528.46 35.8,528.45 36.3,528.44 36.8,528.42 37.3,528.41 37.8,528.39 38.3,528.36 38.8,528.33 39.3,528.30 39.8,528.26 40.3,528.21 40.8,528.15 41.3,528.07 41.8,527.97 42.3,527.86 42.8,527.73 43.3,527.60 43.8,527.50 44.3,527.46 44.8,527.49 45.3,527.57 45.8,527.69 46.3,527.80 46.8,527.89 47.3,527.97 47.8,528.03 48.3,528.08 48.8,528.11 49.3,528.13 49.8,528.14 50.3,528.14 50.8,528.14 51.3,528.12 51.8,528.11 52.3,528.08 52.8,528.05 53.3,528.01 53.8,527.97 54.3,527.91 54.8,527.84 55.3,527.76 55.8,527.66 56.3,527.54 56.8,527.40 57.3,527.22 57.8,527.01 58.3,526.75 58.8,526.44 59.3,526.06 59.8,525.60 60.3,525.08 60.8,524.53 61.3,523.99 61.8,523.58 62.3,523.39 62.8,523.47 63.3,523.81 63.8,524.31 64.3,524.87 64.8,525.41 65.3,525.90 65.8,526.31 66.3,526.65 66.8,526.94 67.3,527.17 67.8,527.36 68.3,527.52 68.8,527.65 69.3,527.76 69.8,527.86 70.3,527.93 70.8,528.00 71.3,528.06 71.8,528.11 72.3,528.15 72.8,528.19 73.3,528.23 73.8,528.26 74.3,528.28 74.8,528.31 75.3,528.33 75.8,528.35 76.3,528.36 76.8,528.38 77.3,528.39 77.8,528.40 78.3,528.42 78.8,528.43" fill="none" stroke="#a0c3e6" stroke-width="1"/>
<polyline points="82.0,528.49 82.2,528.48 82.5,528.48 82.8,528.47 83.0,528.46 83.2,528.46 83.5,528.45 83.8,528.44 84.0,528.43 84.2,528.41 84.5,528.40 84.8,528.38 85.0,528.37 85.2,528.35 85.5,528.32 85.8,528.30 86.0,528.27 86.2,528.23 86.5,528.19 86.8,528.14 87.0,528.09 87.2,528.02 87.5,527.94 87.8,527.86 88.0,527.76 88.2,527.65 88.5,527.54 88.8,527.43 89.0,527.34 89.2,527.29 89.5,527.28 89.8,527.31 90.0,527.38 90.2,527.48 90.5,527.58 90.8,527.67 91.0,527.76 91.2,527.84 91.5,527.91 91.8,527.96 92.0,528.01 92.2,528.04 92.5,528.07 92.8,528.09 93.0,528.10 93.2,528.11 93.5,528.11 93.8,528.11 94.0,528.11 94.2,528.10 94.5,528.09 94.8,528.07 95.0,528.06 95.2,528.04 95.5,528.01 95.8,527.99 96.0,527.96 96.2,527.93 96.5,527.90 96.8,527.87 97.0,527.83 97.2,527.79 97.5,527.75 97.8,527.71 98.0,527.66 98.2,527.60 98.5,527.53 98.8,527.44 99.0,527.33 99.2,527.17 99.5,526.96 99.8,526.67 100.0,526.26 100.2,525.68 100.5,524.90 100.8,523.99 101.0,523.20 101.2,522.99 101.5,523.52 101.8,524.45 102.0,525.36 102.2,526.09 102.5,526.64 102.8,527.03 103.0,527.32 103.2,527.54 103.5,527.70 103.8,527.83 104.0,527.93 104.2,528.01 104.5,528.08 104.8,528.13 105.0,528.18 105.2,528.22 105.5,528.25 105.8,528.28 106.0,528.30 106.2,528.32 106.5,528.34 106.8,528.36 107.0,528.38 107.2,528.39 107.5,528.40 107.8,528.41 108.0,528.43 108.2,528.43 108.5,528.44 108.8,528.45 109.0,528.46 109.2,528.46 109.5,528.47 109.8,528.48 110.0,528.48 110.2,528.49 110.5,528.49 110.8,528.50 111.0,528.50 111.2,528.50 111.5,528.51 111.8,528.51 112.0,528.51 112.2,528.52 112.5,528.52 112.8,528.52 113.0,528.52 113.2,528.53 113.5,528.53 113.8,528.53 114.0,528.53 114.2,528.54 114.5,528.54 114.8,528.54 115.0,528.54 115.2,528.54 115.5,528.54 115.8,528.54 116.0,528.55 116.2,528.55 116.5,528.55 116.8,528.55 117.0,528.55 117.2,528.55 117.5,528.55 117.8,528.55 118.0,528.56 118.2,528.56 118.5,528.56 118.8,528.56 119.0,528.56 119.2,528.56 119.5,528.56 119.8,528.56 120.0,528.56 120.2,528.56 120.5,528.56 120.8,528.56 121.0,528.56 121.2,528.56 121.5,528.56 121.8,528.57 122.0,528.57 122.2,528.57 122.5,528.57 122.8,528.57 123.0,528.57 123.2,528.57 123.5,528.57 123.8,528.57 124.0,528.57 124.2,528.57 124.5,528.57 124.8,528.57 125.0,528.57 125.2,528.57 125.5,528.57 125.8,528.57 126.0,528.57 126.2,528.57 126.5,528.57 126.8,528.57 127.0,528.57 127.2,528.57 127.5,528.57 127.8,528.57 128.0,528.57 128.2,528.57 128.5,528.57 128.8,528.57 129.0,528.57 129.2,528.57 129.5,528.57 129.8,528.57 130.0,528.57 130.2,528.57 130.5,528.57 130.8,528.57 131.0,528.57 131.2,528.57 131.5,528.57 131.8,528.57 132.0,528.57 132.2,528.57 132.5,528.57 132.8,528.57 133.0,528.57 133.2,528.57 133.5,528.57 133.8,528.57 134.0,528.57 134.2,528.57 134.5,528.57 134.8,528.57 135.0,528.57 135.2,528.57 135.5,528.57 135.8,528.57 136.0,528.57 136.2,528.57 136.5,528.57 136.8,528.57 137.0,528.57 137.2,528.57 137.5,528.56 137.8,528.56 138.0,528.56 138.2,528.56 138.5,528.56 138.8,528.56 139.0,528.56 139.2,528.56 139.5,528.56 139.8,528.56 140.0,528.56 140.2,528.56 140.5,528.55 140.8,528.55 141.0,528.55 141.2,528.55 141.5,528.55 141.8,528.55 142.0,528.55 142.2,528.54 142.5,528.54 142.8,528.54 143.0,528.54 143.2,528.54 143.5,528.53 143.8,528.53 144.0,528.53 144.2,528.53 144.5,528.52 144.8,528.52 145.0,528.51 145.2,528.51 145.5,528.51 145.8,528.50 146.0,528.50 146.2,528.49 146.5,528.48 146.8,528.48 147.0,528.47 147.2,528.46 147.5,528.45 147.8,528.44 148.0,528.43 148.2,528.42 148.5,528.41 148.8,528.39 149.0,528.37 149.2,528.35 149.5,528.33 149.8,528.30 150.0,528.27 150.2,528.23 150.5,528.19 150.8,528.14 151.0,528.08 151.2,528.01 151.5,527.92 151.8,527.80 152.0,527.66 152.2,527.48 152.5,527.24 152.8,526.92 153.0,526.48 153.2,525.85 153.5,524.94 153.8,523.60 154.0,521.65 154.2,519.04 154.5,516.46 154.8,515.65 155.0,517.39 155.2,520.14 155.5,522.51 155.8,524.20 156.0,525.35 156.2,526.13 156.5,526.67 156.8,527.06 157.0,527.34 157.2,527.56 157.5,527.72 157.8,527.85 158.0,527.96 158.2,528.04 158.5,528.11 158.8,528.16 159.0,528.21 159.2,528.25 159.5,528.28 159.8,528.31 160.0,528.34 160.2,528.36 160.5,528.38 160.8,528.40 161.0,528.41 161.2,528.43 161.5,528.44 161.8,528.45 162.0,528.46 162.2,528.47 162.5,528.48 162.8,528.48 163.0,528.49 163.2,528.50 163.5,528.50 163.8,528.51 164.0,528.51 164.2,528.51 164.5,528.52 164.8,528.52 165.0,528.53 165.2,528.53 165.5,528.53 165.8,528.53 166.0,528.54 166.2,528.54 166.5,528.54 166.8,528.54 167.0,528.55 167.2,528.55 167.5,528.55 167.8,528.55 168.0,528.55 168.2,528.55 168.5,528.56 168.8,528.56 169.0,528.56 169.2,528.56 169.5,528.56 169.8,528.56 170.0,528.56 170.2,528.56 170.5,528.56 170.8,528.57 171.0,528.57 171.2,528.57 171.5,528.57 171.8,528.57 172.0,528.57 172.2,528.57 172.5,528.57 172.8,528.57 173.0,528.57 173.2,528.57 173.5,528.57 173.8,528.57 174.0,528.57 174.2,528.57 174.5,528.57 174.8,528.57 175.0,528.58 175.2,528.58 175.5,528.58 175.8,528.58 176.0,528.58 176.2,528.58 176.5,528.58 176.8,528.58 177.0,528.58 177.2,528.58 177.5,528.58 177.8,528.58 178.0,528.58 178.2,528.58 178.5,528.58 178.8,528.58 179.0,528.58 179.2,528.58 179.5,528.58 179.8,528.58 180.0,528.58 180.2,528.58 180.5,528.58 180.8,528.58 181.0,528.58 181.2,528.58 181.5,528.58 181.8,528.58 182.0,528.58 182.2,528.58 182.5,528.58 182.8,528.58 183.0,528.58 183.2,528.58 183.5,528.58 183.8,528.58 184.0,528.58 184.2,528.58 184.5,528.58 184.8,528.57 185.0,528.57 185.2,528.57 185.5,528.57 185.8,528.57 186.0,528.57 186.2,528.57 186.5,528.57 186.8,528.57 187.0,528.57 187.2,528.57 187.5,528.57 187.8,528.56 188.0,528.56 188.2,528.56 188.5,528.56 188.8,528.56 189.0,528.56 189.2,528.55 189.5,528.55 189.8,528.55 190.0,528.54 190.2,528.54 190.5,528.53 190.8,528.53 191.0,528.52 191.2,528.52 191.5,528.51 191.8,528.50 192.0,528.49 192.2,528.48 192.5,528.46 192.8,528.45 193.0,528.43 193.2,528.40 193.5,528.37 193.8,528.33 194.0,528.28 194.2,528.21 194.5,528.12 194.8,528.01 195.0,527.85 195.2,527.64 195.5,527.37 195.8,527.06 196.0,526.76 196.2,526.60 196.5,526.67 196.8,526.93 197.0,527.25 197.2,527.54 197.5,527.77 197.8,527.95 198.0,528.08 198.2,528.18 198.5,528.25 198.8,528.31 199.0,528.35 199.2,528.39 199.5,528.42 199.8,528.44 200.0,528.46 200.2,528.47 200.5,528.49 200.8,528.50 201.0,528.51" fill="none" stroke="#a0c3e6" stroke-width="1"/>
<text x="204.60" y="519.00" font-size="10.2" text-anchor="end" fill="#1a1a1a" textLength="52.62" lengthAdjust="spacingAndGlyphs"  stroke="#1a1a1a" stroke-width="0.14">IPA + DMSO</text>
<polyline points="29.8,556.40 30.3,556.39 30.8,556.38 31.3,556.38 31.8,556.37 32.3,556.36 32.8,556.35 33.3,556.34 33.8,556.33 34.3,556.32 34.8,556.30 35.3,556.29 35.8,556.27 36.3,556.25 36.8,556.22 37.3,556.19 37.8,556.15 38.3,556.11 38.8,556.06 39.3,555.99 39.8,555.91 40.3,555.82 40.8,555.70 41.3,555.55 41.8,555.36 42.3,555.14 42.8,554.89 43.3,554.64 43.8,554.45 44.3,554.37 44.8,554.43 45.3,554.61 45.8,554.84 46.3,555.08 46.8,555.29 47.3,555.46 47.8,555.59 48.3,555.69 48.8,555.77 49.3,555.83 49.8,555.87 50.3,555.90 50.8,555.92 51.3,555.92 51.8,555.92 52.3,555.91 52.8,555.89 53.3,555.87 53.8,555.83 54.3,555.78 54.8,555.72 55.3,555.65 55.8,555.56 56.3,555.46 56.8,555.32 57.3,555.16 57.8,554.97 58.3,554.72 58.8,554.43 59.3,554.07 59.8,553.65 60.3,553.16 60.8,552.64 61.3,552.13 61.8,551.75 62.3,551.56 62.8,551.65 63.3,551.97 63.8,552.44 64.3,552.97 64.8,553.48 65.3,553.94 65.8,554.33 66.3,554.65 66.8,554.92 67.3,555.14 67.8,555.32 68.3,555.47 68.8,555.60 69.3,555.70 69.8,555.79 70.3,555.86 70.8,555.93 71.3,555.98 71.8,556.03 72.3,556.07 72.8,556.11 73.3,556.14 73.8,556.17 74.3,556.19 74.8,556.21 75.3,556.23 75.8,556.25 76.3,556.27 76.8,556.28 77.3,556.30 77.8,556.31 78.3,556.32 78.8,556.33" fill="none" stroke="#6391d0" stroke-width="1"/>
<polyline points="82.0,556.38 82.2,556.37 82.5,556.37 82.8,556.36 83.0,556.35 83.2,556.34 83.5,556.33 83.8,556.32 84.0,556.31 84.2,556.29 84.5,556.28 84.8,556.26 85.0,556.24 85.2,556.22 85.5,556.19 85.8,556.16 86.0,556.12 86.2,556.08 86.5,556.04 86.8,555.98 87.0,555.92 87.2,555.84 87.5,555.75 87.8,555.65 88.0,555.53 88.2,555.41 88.5,555.28 88.8,555.15 89.0,555.05 89.2,554.99 89.5,554.98 89.8,555.02 90.0,555.11 90.2,555.21 90.5,555.33 90.8,555.45 91.0,555.55 91.2,555.65 91.5,555.72 91.8,555.79 92.0,555.84 92.2,555.89 92.5,555.92 92.8,555.94 93.0,555.96 93.2,555.98 93.5,555.98 93.8,555.99 94.0,555.98 94.2,555.98 94.5,555.97 94.8,555.96 95.0,555.94 95.2,555.93 95.5,555.90 95.8,555.88 96.0,555.86 96.2,555.83 96.5,555.80 96.8,555.77 97.0,555.73 97.2,555.70 97.5,555.66 97.8,555.62 98.0,555.57 98.2,555.52 98.5,555.45 98.8,555.37 99.0,555.26 99.2,555.12 99.5,554.92 99.8,554.65 100.0,554.26 100.2,553.71 100.5,552.99 100.8,552.12 101.0,551.38 101.2,551.18 101.5,551.68 101.8,552.56 102.0,553.43 102.2,554.12 102.5,554.63 102.8,555.00 103.0,555.28 103.2,555.48 103.5,555.64 103.8,555.76 104.0,555.85 104.2,555.93 104.5,555.99 104.8,556.05 105.0,556.09 105.2,556.13 105.5,556.16 105.8,556.19 106.0,556.21 106.2,556.23 106.5,556.25 106.8,556.27 107.0,556.28 107.2,556.30 107.5,556.31 107.8,556.32 108.0,556.33 108.2,556.34 108.5,556.35 108.8,556.35 109.0,556.36 109.2,556.37 109.5,556.37 109.8,556.38 110.0,556.38 110.2,556.39 110.5,556.39 110.8,556.40 111.0,556.40 111.2,556.40 111.5,556.41 111.8,556.41 112.0,556.41 112.2,556.42 112.5,556.42 112.8,556.42 113.0,556.43 113.2,556.43 113.5,556.43 113.8,556.43 114.0,556.43 114.2,556.44 114.5,556.44 114.8,556.44 115.0,556.44 115.2,556.44 115.5,556.44 115.8,556.44 116.0,556.45 116.2,556.45 116.5,556.45 116.8,556.45 117.0,556.45 117.2,556.45 117.5,556.45 117.8,556.45 118.0,556.45 118.2,556.46 118.5,556.46 118.8,556.46 119.0,556.46 119.2,556.46 119.5,556.46 119.8,556.46 120.0,556.46 120.2,556.46 120.5,556.46 120.8,556.46 121.0,556.46 121.2,556.46 121.5,556.46 121.8,556.46 122.0,556.47 122.2,556.47 122.5,556.47 122.8,556.47 123.0,556.47 123.2,556.47 123.5,556.47 123.8,556.47 124.0,556.47 124.2,556.47 124.5,556.47 124.8,556.47 125.0,556.47 125.2,556.47 125.5,556.47 125.8,556.47 126.0,556.47 126.2,556.47 126.5,556.47 126.8,556.47 127.0,556.47 127.2,556.47 127.5,556.47 127.8,556.47 128.0,556.47 128.2,556.47 128.5,556.47 128.8,556.47 129.0,556.47 129.2,556.47 129.5,556.47 129.8,556.47 130.0,556.47 130.2,556.47 130.5,556.47 130.8,556.47 131.0,556.47 131.2,556.47 131.5,556.47 131.8,556.47 132.0,556.47 132.2,556.47 132.5,556.47 132.8,556.47 133.0,556.47 133.2,556.47 133.5,556.47 133.8,556.47 134.0,556.47 134.2,556.47 134.5,556.47 134.8,556.47 135.0,556.47 135.2,556.47 135.5,556.47 135.8,556.47 136.0,556.47 136.2,556.47 136.5,556.47 136.8,556.46 137.0,556.46 137.2,556.46 137.5,556.46 137.8,556.46 138.0,556.46 138.2,556.46 138.5,556.46 138.8,556.46 139.0,556.46 139.2,556.46 139.5,556.46 139.8,556.46 140.0,556.45 140.2,556.45 140.5,556.45 140.8,556.45 141.0,556.45 141.2,556.45 141.5,556.45 141.8,556.44 142.0,556.44 142.2,556.44 142.5,556.44 142.8,556.44 143.0,556.43 143.2,556.43 143.5,556.43 143.8,556.43 144.0,556.42 144.2,556.42 144.5,556.42 144.8,556.41 145.0,556.41 145.2,556.41 145.5,556.40 145.8,556.40 146.0,556.39 146.2,556.38 146.5,556.38 146.8,556.37 147.0,556.36 147.2,556.35 147.5,556.34 147.8,556.33 148.0,556.32 148.2,556.31 148.5,556.29 148.8,556.28 149.0,556.26 149.2,556.24 149.5,556.21 149.8,556.18 150.0,556.15 150.2,556.11 150.5,556.07 150.8,556.01 151.0,555.95 151.2,555.87 151.5,555.77 151.8,555.66 152.0,555.50 152.2,555.31 152.5,555.06 152.8,554.72 153.0,554.25 153.2,553.58 153.5,552.62 153.8,551.20 154.0,549.12 154.2,546.35 154.5,543.61 154.8,542.75 155.0,544.60 155.2,547.52 155.5,550.04 155.8,551.83 156.0,553.05 156.2,553.88 156.5,554.45 156.8,554.86 157.0,555.17 157.2,555.40 157.5,555.57 157.8,555.71 158.0,555.82 158.2,555.90 158.5,555.98 158.8,556.04 159.0,556.09 159.2,556.13 159.5,556.17 159.8,556.20 160.0,556.22 160.2,556.25 160.5,556.27 160.8,556.29 161.0,556.30 161.2,556.32 161.5,556.33 161.8,556.34 162.0,556.35 162.2,556.36 162.5,556.37 162.8,556.38 163.0,556.38 163.2,556.39 163.5,556.39 163.8,556.40 164.0,556.41 164.2,556.41 164.5,556.41 164.8,556.42 165.0,556.42 165.2,556.42 165.5,556.43 165.8,556.43 166.0,556.43 166.2,556.44 166.5,556.44 166.8,556.44 167.0,556.44 167.2,556.44 167.5,556.45 167.8,556.45 168.0,556.45 168.2,556.45 168.5,556.45 168.8,556.45 169.0,556.46 169.2,556.46 169.5,556.46 169.8,556.46 170.0,556.46 170.2,556.46 170.5,556.46 170.8,556.46 171.0,556.46 171.2,556.47 171.5,556.47 171.8,556.47 172.0,556.47 172.2,556.47 172.5,556.47 172.8,556.47 173.0,556.47 173.2,556.47 173.5,556.47 173.8,556.47 174.0,556.47 174.2,556.47 174.5,556.47 174.8,556.47 175.0,556.47 175.2,556.47 175.5,556.47 175.8,556.47 176.0,556.47 176.2,556.48 176.5,556.48 176.8,556.48 177.0,556.48 177.2,556.48 177.5,556.48 177.8,556.48 178.0,556.48 178.2,556.48 178.5,556.48 178.8,556.48 179.0,556.48 179.2,556.48 179.5,556.48 179.8,556.48 180.0,556.48 180.2,556.48 180.5,556.48 180.8,556.48 181.0,556.48 181.2,556.48 181.5,556.48 181.8,556.48 182.0,556.48 182.2,556.48 182.5,556.48 182.8,556.48 183.0,556.48 183.2,556.48 183.5,556.48 183.8,556.47 184.0,556.47 184.2,556.47 184.5,556.47 184.8,556.47 185.0,556.47 185.2,556.47 185.5,556.47 185.8,556.47 186.0,556.47 186.2,556.47 186.5,556.47 186.8,556.47 187.0,556.47 187.2,556.46 187.5,556.46 187.8,556.46 188.0,556.46 188.2,556.46 188.5,556.46 188.8,556.45 189.0,556.45 189.2,556.45 189.5,556.45 189.8,556.44 190.0,556.44 190.2,556.43 190.5,556.43 190.8,556.42 191.0,556.42 191.2,556.41 191.5,556.40 191.8,556.39 192.0,556.38 192.2,556.37 192.5,556.35 192.8,556.33 193.0,556.31 193.2,556.28 193.5,556.24 193.8,556.20 194.0,556.14 194.2,556.07 194.5,555.97 194.8,555.85 195.0,555.68 195.2,555.45 195.5,555.15 195.8,554.80 196.0,554.48 196.2,554.30 196.5,554.38 196.8,554.66 197.0,555.02 197.2,555.34 197.5,555.59 197.8,555.79 198.0,555.93 198.2,556.04 198.5,556.12 198.8,556.18 199.0,556.23 199.2,556.27 199.5,556.30 199.8,556.32 200.0,556.34 200.2,556.36 200.5,556.38 200.8,556.39 201.0,556.40" fill="none" stroke="#6391d0" stroke-width="1"/>
<text x="204.60" y="546.60" font-size="10.2" text-anchor="end" fill="#1a1a1a" textLength="44.00" lengthAdjust="spacingAndGlyphs"  stroke="#1a1a1a" stroke-width="0.14">IPA + DMF</text>
<polyline points="29.8,583.21 30.3,583.20 30.8,583.19 31.3,583.17 31.8,583.16 32.3,583.14 32.8,583.12 33.3,583.09 33.8,583.07 34.3,583.04 34.8,583.00 35.3,582.96 35.8,582.91 36.3,582.86 36.8,582.79 37.3,582.72 37.8,582.63 38.3,582.52 38.8,582.38 39.3,582.22 39.8,582.01 40.3,581.76 40.8,581.44 41.3,581.04 41.8,580.55 42.3,579.96 42.8,579.30 43.3,578.65 43.8,578.14 44.3,577.95 44.8,578.14 45.3,578.64 45.8,579.29 46.3,579.94 46.8,580.52 47.3,581.01 47.8,581.40 48.3,581.71 48.8,581.96 49.3,582.15 49.8,582.31 50.3,582.43 50.8,582.53 51.3,582.61 51.8,582.67 52.3,582.72 52.8,582.76 53.3,582.79 53.8,582.81 54.3,582.82 54.8,582.82 55.3,582.81 55.8,582.79 56.3,582.77 56.8,582.73 57.3,582.68 57.8,582.61 58.3,582.52 58.8,582.41 59.3,582.28 59.8,582.11 60.3,581.92 60.8,581.71 61.3,581.51 61.8,581.36 62.3,581.29 62.8,581.33 63.3,581.47 63.8,581.66 64.3,581.88 64.8,582.10 65.3,582.28 65.8,582.45 66.3,582.58 66.8,582.69 67.3,582.79 67.8,582.86 68.3,582.93 68.8,582.98 69.3,583.02 69.8,583.06 70.3,583.09 70.8,583.12 71.3,583.15 71.8,583.17 72.3,583.19 72.8,583.20 73.3,583.22 73.8,583.23 74.3,583.24 74.8,583.25 75.3,583.26 75.8,583.27 76.3,583.28 76.8,583.28 77.3,583.29 77.8,583.29 78.3,583.30 78.8,583.30" fill="none" stroke="#46669d" stroke-width="1"/>
<polyline points="82.0,583.29 82.2,583.28 82.5,583.27 82.8,583.27 83.0,583.26 83.2,583.25 83.5,583.24 83.8,583.23 84.0,583.22 84.2,583.20 84.5,583.19 84.8,583.17 85.0,583.15 85.2,583.13 85.5,583.11 85.8,583.08 86.0,583.05 86.2,583.01 86.5,582.96 86.8,582.91 87.0,582.85 87.2,582.78 87.5,582.70 87.8,582.60 88.0,582.50 88.2,582.38 88.5,582.26 88.8,582.14 89.0,582.05 89.2,581.99 89.5,581.98 89.8,582.02 90.0,582.10 90.2,582.20 90.5,582.31 90.8,582.41 91.0,582.51 91.2,582.60 91.5,582.67 91.8,582.73 92.0,582.78 92.2,582.82 92.5,582.85 92.8,582.87 93.0,582.89 93.2,582.90 93.5,582.90 93.8,582.90 94.0,582.90 94.2,582.90 94.5,582.89 94.8,582.87 95.0,582.86 95.2,582.84 95.5,582.82 95.8,582.79 96.0,582.77 96.2,582.74 96.5,582.71 96.8,582.68 97.0,582.65 97.2,582.61 97.5,582.58 97.8,582.54 98.0,582.49 98.2,582.44 98.5,582.38 98.8,582.30 99.0,582.19 99.2,582.06 99.5,581.87 99.8,581.60 100.0,581.23 100.2,580.71 100.5,580.01 100.8,579.19 101.0,578.47 101.2,578.28 101.5,578.77 101.8,579.61 102.0,580.44 102.2,581.10 102.5,581.60 102.8,581.96 103.0,582.22 103.2,582.42 103.5,582.57 103.8,582.68 104.0,582.77 104.2,582.85 104.5,582.91 104.8,582.96 105.0,583.00 105.2,583.04 105.5,583.07 105.8,583.10 106.0,583.12 106.2,583.14 106.5,583.16 106.8,583.17 107.0,583.19 107.2,583.20 107.5,583.21 107.8,583.22 108.0,583.23 108.2,583.24 108.5,583.25 108.8,583.26 109.0,583.26 109.2,583.27 109.5,583.28 109.8,583.28 110.0,583.29 110.2,583.29 110.5,583.30 110.8,583.30 111.0,583.30 111.2,583.31 111.5,583.31 111.8,583.31 112.0,583.32 112.2,583.32 112.5,583.32 112.8,583.33 113.0,583.33 113.2,583.33 113.5,583.33 113.8,583.33 114.0,583.34 114.2,583.34 114.5,583.34 114.8,583.34 115.0,583.34 115.2,583.34 115.5,583.35 115.8,583.35 116.0,583.35 116.2,583.35 116.5,583.35 116.8,583.35 117.0,583.35 117.2,583.35 117.5,583.35 117.8,583.36 118.0,583.36 118.2,583.36 118.5,583.36 118.8,583.36 119.0,583.36 119.2,583.36 119.5,583.36 119.8,583.36 120.0,583.36 120.2,583.36 120.5,583.36 120.8,583.36 121.0,583.37 121.2,583.37 121.5,583.37 121.8,583.37 122.0,583.37 122.2,583.37 122.5,583.37 122.8,583.37 123.0,583.37 123.2,583.37 123.5,583.37 123.8,583.37 124.0,583.37 124.2,583.37 124.5,583.37 124.8,583.37 125.0,583.37 125.2,583.37 125.5,583.37 125.8,583.37 126.0,583.37 126.2,583.37 126.5,583.37 126.8,583.37 127.0,583.37 127.2,583.37 127.5,583.37 127.8,583.37 128.0,583.37 128.2,583.37 128.5,583.37 128.8,583.37 129.0,583.37 129.2,583.37 129.5,583.37 129.8,583.37 130.0,583.37 130.2,583.37 130.5,583.37 130.8,583.37 131.0,583.37 131.2,583.37 131.5,583.37 131.8,583.37 132.0,583.37 132.2,583.37 132.5,583.37 132.8,583.37 133.0,583.37 133.2,583.37 133.5,583.37 133.8,583.37 134.0,583.37 134.2,583.37 134.5,583.37 134.8,583.37 135.0,583.37 135.2,583.37 135.5,583.37 135.8,583.37 136.0,583.37 136.2,583.37 136.5,583.37 136.8,583.37 137.0,583.37 137.2,583.37 137.5,583.37 137.8,583.37 138.0,583.37 138.2,583.37 138.5,583.36 138.8,583.36 139.0,583.36 139.2,583.36 139.5,583.36 139.8,583.36 140.0,583.36 140.2,583.36 140.5,583.36 140.8,583.36 141.0,583.36 141.2,583.35 141.5,583.35 141.8,583.35 142.0,583.35 142.2,583.35 142.5,583.35 142.8,583.35 143.0,583.34 143.2,583.34 143.5,583.34 143.8,583.34 144.0,583.33 144.2,583.33 144.5,583.33 144.8,583.33 145.0,583.32 145.2,583.32 145.5,583.31 145.8,583.31 146.0,583.31 146.2,583.30 146.5,583.29 146.8,583.29 147.0,583.28 147.2,583.27 147.5,583.27 147.8,583.26 148.0,583.25 148.2,583.24 148.5,583.22 148.8,583.21 149.0,583.19 149.2,583.17 149.5,583.15 149.8,583.13 150.0,583.10 150.2,583.07 150.5,583.03 150.8,582.98 151.0,582.93 151.2,582.86 151.5,582.78 151.8,582.68 152.0,582.55 152.2,582.38 152.5,582.17 152.8,581.87 153.0,581.47 153.2,580.90 153.5,580.08 153.8,578.86 154.0,577.09 154.2,574.72 154.5,572.38 154.8,571.65 155.0,573.22 155.2,575.72 155.5,577.87 155.8,579.41 156.0,580.45 156.2,581.16 156.5,581.65 156.8,582.00 157.0,582.26 157.2,582.45 157.5,582.60 157.8,582.72 158.0,582.81 158.2,582.89 158.5,582.95 158.8,583.00 159.0,583.05 159.2,583.08 159.5,583.11 159.8,583.14 160.0,583.16 160.2,583.18 160.5,583.20 160.8,583.22 161.0,583.23 161.2,583.24 161.5,583.25 161.8,583.26 162.0,583.27 162.2,583.28 162.5,583.29 162.8,583.29 163.0,583.30 163.2,583.30 163.5,583.31 163.8,583.31 164.0,583.32 164.2,583.32 164.5,583.33 164.8,583.33 165.0,583.33 165.2,583.34 165.5,583.34 165.8,583.34 166.0,583.34 166.2,583.34 166.5,583.35 166.8,583.35 167.0,583.35 167.2,583.35 167.5,583.35 167.8,583.36 168.0,583.36 168.2,583.36 168.5,583.36 168.8,583.36 169.0,583.36 169.2,583.36 169.5,583.36 169.8,583.36 170.0,583.37 170.2,583.37 170.5,583.37 170.8,583.37 171.0,583.37 171.2,583.37 171.5,583.37 171.8,583.37 172.0,583.37 172.2,583.37 172.5,583.37 172.8,583.37 173.0,583.37 173.2,583.37 173.5,583.37 173.8,583.38 174.0,583.38 174.2,583.38 174.5,583.38 174.8,583.38 175.0,583.38 175.2,583.38 175.5,583.38 175.8,583.38 176.0,583.38 176.2,583.38 176.5,583.38 176.8,583.38 177.0,583.38 177.2,583.38 177.5,583.38 177.8,583.38 178.0,583.38 178.2,583.38 178.5,583.38 178.8,583.38 179.0,583.38 179.2,583.38 179.5,583.38 179.8,583.38 180.0,583.38 180.2,583.38 180.5,583.38 180.8,583.38 181.0,583.38 181.2,583.38 181.5,583.38 181.8,583.38 182.0,583.38 182.2,583.38 182.5,583.38 182.8,583.38 183.0,583.38 183.2,583.38 183.5,583.38 183.8,583.38 184.0,583.38 184.2,583.38 184.5,583.38 184.8,583.38 185.0,583.38 185.2,583.37 185.5,583.37 185.8,583.37 186.0,583.37 186.2,583.37 186.5,583.37 186.8,583.37 187.0,583.37 187.2,583.37 187.5,583.37 187.8,583.36 188.0,583.36 188.2,583.36 188.5,583.36 188.8,583.36 189.0,583.36 189.2,583.35 189.5,583.35 189.8,583.35 190.0,583.34 190.2,583.34 190.5,583.34 190.8,583.33 191.0,583.32 191.2,583.32 191.5,583.31 191.8,583.30 192.0,583.29 192.2,583.28 192.5,583.26 192.8,583.25 193.0,583.23 193.2,583.20 193.5,583.17 193.8,583.13 194.0,583.08 194.2,583.01 194.5,582.92 194.8,582.81 195.0,582.65 195.2,582.44 195.5,582.17 195.8,581.86 196.0,581.56 196.2,581.40 196.5,581.47 196.8,581.73 197.0,582.05 197.2,582.34 197.5,582.58 197.8,582.75 198.0,582.88 198.2,582.98 198.5,583.05 198.8,583.11 199.0,583.15 199.2,583.19 199.5,583.22 199.8,583.24 200.0,583.26 200.2,583.27 200.5,583.29 200.8,583.30 201.0,583.31" fill="none" stroke="#46669d" stroke-width="1"/>
<text x="204.60" y="573.60" font-size="10.2" text-anchor="end" fill="#1a1a1a" textLength="102.02" lengthAdjust="spacingAndGlyphs"  stroke="#1a1a1a" stroke-width="0.14">3F-PEA (IPA) / CsFAMA</text>
<polyline points="29.8,607.90 30.3,607.90 30.8,607.90 31.3,607.90 31.8,607.90 32.3,607.90 32.8,607.90 33.3,607.90 33.8,607.90 34.3,607.90 34.8,607.90 35.3,607.90 35.8,607.90 36.3,607.90 36.8,607.90 37.3,607.90 37.8,607.90 38.3,607.90 38.8,607.90 39.3,607.90 39.8,607.90 40.3,607.90 40.8,607.90 41.3,607.90 41.8,607.90 42.3,607.90 42.8,607.90 43.3,607.90 43.8,607.90 44.3,607.90 44.8,607.90 45.3,607.90 45.8,607.90 46.3,607.90 46.8,607.90 47.3,607.90 47.8,607.90 48.3,607.90 48.8,607.90 49.3,607.90 49.8,607.90 50.3,607.90 50.8,607.90 51.3,607.90 51.8,607.90 52.3,607.90 52.8,607.90 53.3,607.90 53.8,607.90 54.3,607.90 54.8,607.90 55.3,607.90 55.8,607.90 56.3,607.90 56.8,607.90 57.3,607.90 57.8,607.90 58.3,607.90 58.8,607.90 59.3,607.90 59.8,607.90 60.3,607.90 60.8,607.90 61.3,607.90 61.8,607.90 62.3,607.90 62.8,607.90 63.3,607.90 63.8,607.90 64.3,607.90 64.8,607.90 65.3,607.90 65.8,607.90 66.3,607.90 66.8,607.90 67.3,607.90 67.8,607.90 68.3,607.90 68.8,607.90 69.3,607.90 69.8,607.90 70.3,607.90 70.8,607.90 71.3,607.90 71.8,607.90 72.3,607.90 72.8,607.90 73.3,607.90 73.8,607.90 74.3,607.90 74.8,607.90 75.3,607.90 75.8,607.90 76.3,607.90 76.8,607.90 77.3,607.90 77.8,607.90 78.3,607.90 78.8,607.90" fill="none" stroke="#33486c" stroke-width="1"/>
<polyline points="82.0,607.79 82.2,607.79 82.5,607.78 82.8,607.77 83.0,607.77 83.2,607.76 83.5,607.75 83.8,607.74 84.0,607.73 84.2,607.72 84.5,607.70 84.8,607.69 85.0,607.67 85.2,607.65 85.5,607.63 85.8,607.60 86.0,607.57 86.2,607.53 86.5,607.49 86.8,607.45 87.0,607.39 87.2,607.32 87.5,607.25 87.8,607.16 88.0,607.06 88.2,606.95 88.5,606.84 88.8,606.73 89.0,606.65 89.2,606.59 89.5,606.58 89.8,606.62 90.0,606.69 90.2,606.78 90.5,606.88 90.8,606.98 91.0,607.07 91.2,607.15 91.5,607.21 91.8,607.27 92.0,607.31 92.2,607.35 92.5,607.37 92.8,607.39 93.0,607.41 93.2,607.42 93.5,607.42 93.8,607.42 94.0,607.42 94.2,607.41 94.5,607.40 94.8,607.39 95.0,607.37 95.2,607.35 95.5,607.33 95.8,607.31 96.0,607.28 96.2,607.25 96.5,607.22 96.8,607.19 97.0,607.16 97.2,607.13 97.5,607.09 97.8,607.05 98.0,607.01 98.2,606.96 98.5,606.90 98.8,606.82 99.0,606.73 99.2,606.60 99.5,606.42 99.8,606.16 100.0,605.81 100.2,605.31 100.5,604.64 100.8,603.85 101.0,603.17 101.2,602.98 101.5,603.45 101.8,604.26 102.0,605.05 102.2,605.69 102.5,606.16 102.8,606.51 103.0,606.76 103.2,606.95 103.5,607.09 103.8,607.21 104.0,607.29 104.2,607.37 104.5,607.42 104.8,607.47 105.0,607.51 105.2,607.55 105.5,607.58 105.8,607.60 106.0,607.63 106.2,607.65 106.5,607.66 106.8,607.68 107.0,607.69 107.2,607.71 107.5,607.72 107.8,607.73 108.0,607.74 108.2,607.75 108.5,607.75 108.8,607.76 109.0,607.77 109.2,607.77 109.5,607.78 109.8,607.78 110.0,607.79 110.2,607.79 110.5,607.80 110.8,607.80 111.0,607.81 111.2,607.81 111.5,607.81 111.8,607.82 112.0,607.82 112.2,607.82 112.5,607.82 112.8,607.83 113.0,607.83 113.2,607.83 113.5,607.83 113.8,607.84 114.0,607.84 114.2,607.84 114.5,607.84 114.8,607.84 115.0,607.84 115.2,607.85 115.5,607.85 115.8,607.85 116.0,607.85 116.2,607.85 116.5,607.85 116.8,607.85 117.0,607.85 117.2,607.86 117.5,607.86 117.8,607.86 118.0,607.86 118.2,607.86 118.5,607.86 118.8,607.86 119.0,607.86 119.2,607.86 119.5,607.86 119.8,607.86 120.0,607.86 120.2,607.86 120.5,607.86 120.8,607.87 121.0,607.87 121.2,607.87 121.5,607.87 121.8,607.87 122.0,607.87 122.2,607.87 122.5,607.87 122.8,607.87 123.0,607.87 123.2,607.87 123.5,607.87 123.8,607.87 124.0,607.87 124.2,607.87 124.5,607.87 124.8,607.87 125.0,607.87 125.2,607.87 125.5,607.87 125.8,607.87 126.0,607.87 126.2,607.87 126.5,607.87 126.8,607.87 127.0,607.87 127.2,607.87 127.5,607.87 127.8,607.87 128.0,607.87 128.2,607.87 128.5,607.87 128.8,607.87 129.0,607.87 129.2,607.87 129.5,607.87 129.8,607.87 130.0,607.87 130.2,607.87 130.5,607.87 130.8,607.87 131.0,607.87 131.2,607.87 131.5,607.87 131.8,607.87 132.0,607.87 132.2,607.87 132.5,607.87 132.8,607.87 133.0,607.87 133.2,607.87 133.5,607.87 133.8,607.87 134.0,607.87 134.2,607.87 134.5,607.87 134.8,607.87 135.0,607.87 135.2,607.87 135.5,607.87 135.8,607.87 136.0,607.87 136.2,607.87 136.5,607.87 136.8,607.87 137.0,607.87 137.2,607.87 137.5,607.87 137.8,607.87 138.0,607.87 138.2,607.87 138.5,607.87 138.8,607.87 139.0,607.86 139.2,607.86 139.5,607.86 139.8,607.86 140.0,607.86 140.2,607.86 140.5,607.86 140.8,607.86 141.0,607.86 141.2,607.86 141.5,607.86 141.8,607.85 142.0,607.85 142.2,607.85 142.5,607.85 142.8,607.85 143.0,607.85 143.2,607.84 143.5,607.84 143.8,607.84 144.0,607.84 144.2,607.83 144.5,607.83 144.8,607.83 145.0,607.83 145.2,607.82 145.5,607.82 145.8,607.81 146.0,607.81 146.2,607.81 146.5,607.80 146.8,607.79 147.0,607.79 147.2,607.78 147.5,607.77 147.8,607.76 148.0,607.75 148.2,607.74 148.5,607.73 148.8,607.72 149.0,607.70 149.2,607.69 149.5,607.67 149.8,607.64 150.0,607.62 150.2,607.58 150.5,607.55 150.8,607.50 151.0,607.45 151.2,607.39 151.5,607.31 151.8,607.21 152.0,607.09 152.2,606.93 152.5,606.73 152.8,606.45 153.0,606.07 153.2,605.53 153.5,604.75 153.8,603.59 154.0,601.91 154.2,599.66 154.5,597.44 154.8,596.74 155.0,598.24 155.2,600.61 155.5,602.66 155.8,604.11 156.0,605.10 156.2,605.77 156.5,606.24 156.8,606.57 157.0,606.82 157.2,607.00 157.5,607.14 157.8,607.26 158.0,607.34 158.2,607.42 158.5,607.47 158.8,607.52 159.0,607.56 159.2,607.60 159.5,607.63 159.8,607.65 160.0,607.67 160.2,607.69 160.5,607.71 160.8,607.73 161.0,607.74 161.2,607.75 161.5,607.76 161.8,607.77 162.0,607.78 162.2,607.79 162.5,607.79 162.8,607.80 163.0,607.80 163.2,607.81 163.5,607.81 163.8,607.82 164.0,607.82 164.2,607.83 164.5,607.83 164.8,607.83 165.0,607.84 165.2,607.84 165.5,607.84 165.8,607.84 166.0,607.85 166.2,607.85 166.5,607.85 166.8,607.85 167.0,607.85 167.2,607.85 167.5,607.86 167.8,607.86 168.0,607.86 168.2,607.86 168.5,607.86 168.8,607.86 169.0,607.86 169.2,607.86 169.5,607.87 169.8,607.87 170.0,607.87 170.2,607.87 170.5,607.87 170.8,607.87 171.0,607.87 171.2,607.87 171.5,607.87 171.8,607.87 172.0,607.87 172.2,607.87 172.5,607.87 172.8,607.87 173.0,607.87 173.2,607.88 173.5,607.88 173.8,607.88 174.0,607.88 174.2,607.88 174.5,607.88 174.8,607.88 175.0,607.88 175.2,607.88 175.5,607.88 175.8,607.88 176.0,607.88 176.2,607.88 176.5,607.88 176.8,607.88 177.0,607.88 177.2,607.88 177.5,607.88 177.8,607.88 178.0,607.88 178.2,607.88 178.5,607.88 178.8,607.88 179.0,607.88 179.2,607.88 179.5,607.88 179.8,607.88 180.0,607.88 180.2,607.88 180.5,607.88 180.8,607.88 181.0,607.88 181.2,607.88 181.5,607.88 181.8,607.88 182.0,607.88 182.2,607.88 182.5,607.88 182.8,607.88 183.0,607.88 183.2,607.88 183.5,607.88 183.8,607.88 184.0,607.88 184.2,607.88 184.5,607.88 184.8,607.88 185.0,607.88 185.2,607.88 185.5,607.87 185.8,607.87 186.0,607.87 186.2,607.87 186.5,607.87 186.8,607.87 187.0,607.87 187.2,607.87 187.5,607.87 187.8,607.87 188.0,607.86 188.2,607.86 188.5,607.86 188.8,607.86 189.0,607.86 189.2,607.85 189.5,607.85 189.8,607.85 190.0,607.84 190.2,607.84 190.5,607.84 190.8,607.83 191.0,607.82 191.2,607.82 191.5,607.81 191.8,607.80 192.0,607.79 192.2,607.78 192.5,607.76 192.8,607.75 193.0,607.73 193.2,607.70 193.5,607.67 193.8,607.63 194.0,607.58 194.2,607.51 194.5,607.42 194.8,607.31 195.0,607.15 195.2,606.94 195.5,606.68 195.8,606.36 196.0,606.06 196.2,605.90 196.5,605.97 196.8,606.23 197.0,606.55 197.2,606.84 197.5,607.08 197.8,607.25 198.0,607.38 198.2,607.48 198.5,607.55 198.8,607.61 199.0,607.65 199.2,607.69 199.5,607.72 199.8,607.74 200.0,607.76 200.2,607.78 200.5,607.79 200.8,607.80 201.0,607.81" fill="none" stroke="#33486c" stroke-width="1"/>
<text x="204.60" y="601.20" font-size="10.2" text-anchor="end" fill="#1a1a1a" textLength="37.20" lengthAdjust="spacingAndGlyphs"  stroke="#1a1a1a" stroke-width="0.14">CsFAMA</text>
<line x1="44.30" y1="459.90" x2="44.30" y2="597.30" stroke="#2a4262" stroke-width="0.8" stroke-dasharray="2.6,1.7"/>
<line x1="44.30" y1="459.90" x2="58.50" y2="450.10" stroke="#2a4262" stroke-width="0.8" stroke-dasharray="2.6,1.7"/>
<line x1="62.40" y1="466.40" x2="62.40" y2="597.30" stroke="#2a4262" stroke-width="0.8" stroke-dasharray="2.6,1.7"/>
<line x1="62.40" y1="466.40" x2="77.40" y2="455.40" stroke="#2a4262" stroke-width="0.8" stroke-dasharray="2.6,1.7"/>
<text x="61.10" y="449.20" font-size="9.6" text-anchor="start" fill="#1a1a1a"  stroke="#1a1a1a" stroke-width="0.14">n=2</text>
<text x="81.10" y="457.90" font-size="9.6" text-anchor="start" fill="#1a1a1a"  stroke="#1a1a1a" stroke-width="0.14">n=1</text>
<line x1="29.60" y1="442.20" x2="29.60" y2="618.10" stroke="#444" stroke-width="0.9" />
<line x1="29.60" y1="618.10" x2="77.60" y2="618.10" stroke="#444" stroke-width="0.9" />
<line x1="83.00" y1="618.10" x2="201.30" y2="618.10" stroke="#444" stroke-width="0.9" />
<line x1="77.20" y1="621.50" x2="80.20" y2="614.70" stroke="#444" stroke-width="0.8" />
<line x1="80.00" y1="621.50" x2="83.00" y2="614.70" stroke="#444" stroke-width="0.8" />
<line x1="43.40" y1="618.10" x2="43.40" y2="620.80" stroke="#444" stroke-width="0.8" />
<text x="43.40" y="633.00" font-size="10.8" text-anchor="middle" fill="#1a1a1a" textLength="5.51" lengthAdjust="spacingAndGlyphs"  stroke="#1a1a1a" stroke-width="0.14">4</text>
<line x1="71.80" y1="618.10" x2="71.80" y2="620.80" stroke="#444" stroke-width="0.8" />
<text x="71.80" y="633.00" font-size="10.8" text-anchor="middle" fill="#1a1a1a" textLength="5.51" lengthAdjust="spacingAndGlyphs"  stroke="#1a1a1a" stroke-width="0.14">6</text>
<line x1="109.90" y1="618.10" x2="109.90" y2="620.80" stroke="#444" stroke-width="0.8" />
<text x="109.90" y="633.00" font-size="10.8" text-anchor="middle" fill="#1a1a1a" textLength="11.01" lengthAdjust="spacingAndGlyphs"  stroke="#1a1a1a" stroke-width="0.14">15</text>
<line x1="146.30" y1="618.10" x2="146.30" y2="620.80" stroke="#444" stroke-width="0.8" />
<text x="146.30" y="633.00" font-size="10.8" text-anchor="middle" fill="#1a1a1a" textLength="11.01" lengthAdjust="spacingAndGlyphs"  stroke="#1a1a1a" stroke-width="0.14">19</text>
<line x1="182.70" y1="618.10" x2="182.70" y2="620.80" stroke="#444" stroke-width="0.8" />
<text x="182.70" y="633.00" font-size="10.8" text-anchor="middle" fill="#1a1a1a" textLength="11.01" lengthAdjust="spacingAndGlyphs"  stroke="#1a1a1a" stroke-width="0.14">23</text>
<text x="115.40" y="644.50" font-size="10.2" text-anchor="middle" fill="#1a1a1a"  stroke="#1a1a1a" stroke-width="0.14">2 Theta (degree)</text>
<text transform="translate(20.2,530) rotate(-90)" font-size="10.1" text-anchor="middle" fill="#1a1a1a" stroke="#1a1a1a" stroke-width="0.14">Intensity (a.u.)</text>
<text x="241.30" y="16.30" font-size="13" text-anchor="start" fill="#1a1a1a" font-weight="bold" stroke="#1a1a1a" stroke-width="0.14">d</text>
<rect x="281.4" y="12.9" width="396.0" height="84.39999999999999" fill="#3a5a8c"/>
<g clip-path="url(#clipD)">
<g clip-path="url(#clipDL)">
<rect x="281.4" y="77.5" width="79.30000000000001" height="19.799999999999997" fill="url(#glowd)"/>
<ellipse cx="344.7" cy="94.3" rx="20" ry="4" fill="#fff" opacity="0.22" filter="url(#blur1)"/>
<ellipse cx="355.7" cy="96.3" rx="9" ry="7" fill="#fff" opacity="0.3" filter="url(#blur1)"/>
<polygon points="340.7,12.9 360.7,12.9 360.7,19.9" fill="#fff" opacity="0.18" filter="url(#blur1)"/>
</g>
<rect x="281.4" y="12.9" width="396.0" height="5" fill="url(#topband)"/>
<g filter="url(#blur05)">
<line x1="350.00" y1="25.50" x2="677.40" y2="25.50" stroke="#ffffff" stroke-width="2.0" stroke-opacity="0.2"/>
<line x1="362.00" y1="17.30" x2="677.40" y2="17.30" stroke="#ffffff" stroke-width="1.6" stroke-opacity="0.14"/>
<line x1="450.00" y1="22.10" x2="677.40" y2="22.10" stroke="#ffffff" stroke-width="1.2" stroke-opacity="0.08"/>
<line x1="370.00" y1="86.60" x2="439.60" y2="86.60" stroke="#ffffff" stroke-width="1.3" stroke-opacity="0.15"/>
<line x1="439.60" y1="86.50" x2="517.90" y2="86.50" stroke="#ffffff" stroke-width="2.2" stroke-opacity="0.35"/>
<line x1="517.90" y1="86.50" x2="677.40" y2="86.50" stroke="#ffffff" stroke-width="2.6" stroke-opacity="0.55"/>
<line x1="470.00" y1="79.30" x2="517.90" y2="79.30" stroke="#ffffff" stroke-width="1.6" stroke-opacity="0.1"/>
<line x1="517.90" y1="79.30" x2="677.40" y2="79.30" stroke="#ffffff" stroke-width="2.4" stroke-opacity="0.24"/>
<line x1="385.00" y1="94.60" x2="445.00" y2="94.60" stroke="#ffffff" stroke-width="1.2" stroke-opacity="0.14"/>
</g>
</g>
<line x1="360.70" y1="12.90" x2="360.70" y2="97.30" stroke="#d2d2d2" stroke-width="1.8" />
<line x1="401.50" y1="13.40" x2="401.50" y2="97.30" stroke="#ffffff" stroke-width="0.8" stroke-dasharray="2.6,1.6" stroke-opacity="0.9"/>
<line x1="439.60" y1="13.40" x2="439.60" y2="97.30" stroke="#ffffff" stroke-width="0.8" stroke-dasharray="2.6,1.6" stroke-opacity="0.9"/>
<line x1="517.90" y1="13.40" x2="517.90" y2="97.30" stroke="#ffffff" stroke-width="0.8" stroke-dasharray="2.6,1.6" stroke-opacity="0.9"/>
<line x1="281.40" y1="12.90" x2="677.40" y2="12.90" stroke="#9aa6b8" stroke-width="0.8" />
<line x1="677.40" y1="12.90" x2="677.40" y2="97.30" stroke="#4a5568" stroke-width="0.8" />
<line x1="281.40" y1="12.90" x2="281.40" y2="97.30" stroke="#3a3a3a" stroke-width="0.8" />
<line x1="281.40" y1="97.30" x2="677.40" y2="97.30" stroke="#3a3a3a" stroke-width="0.8" />
<line x1="279.10" y1="12.90" x2="281.40" y2="12.90" stroke="#3a3a3a" stroke-width="0.8" />
<text x="277.60" y="16.50" font-size="10.5" text-anchor="end" fill="#1a1a1a" textLength="13.34" lengthAdjust="spacingAndGlyphs"  stroke="#1a1a1a" stroke-width="0.14">1.0</text>
<line x1="279.10" y1="34.00" x2="281.40" y2="34.00" stroke="#3a3a3a" stroke-width="0.8" />
<text x="277.60" y="37.60" font-size="10.5" text-anchor="end" fill="#1a1a1a" textLength="13.34" lengthAdjust="spacingAndGlyphs"  stroke="#1a1a1a" stroke-width="0.14">0.8</text>
<line x1="279.10" y1="55.10" x2="281.40" y2="55.10" stroke="#3a3a3a" stroke-width="0.8" />
<text x="277.60" y="58.70" font-size="10.5" text-anchor="end" fill="#1a1a1a" textLength="13.34" lengthAdjust="spacingAndGlyphs"  stroke="#1a1a1a" stroke-width="0.14">0.6</text>
<line x1="279.10" y1="76.20" x2="281.40" y2="76.20" stroke="#3a3a3a" stroke-width="0.8" />
<text x="277.60" y="79.80" font-size="10.5" text-anchor="end" fill="#1a1a1a" textLength="13.34" lengthAdjust="spacingAndGlyphs"  stroke="#1a1a1a" stroke-width="0.14">0.4</text>
<line x1="279.10" y1="97.30" x2="281.40" y2="97.30" stroke="#3a3a3a" stroke-width="0.8" />
<text x="277.60" y="100.90" font-size="10.5" text-anchor="end" fill="#1a1a1a" textLength="13.34" lengthAdjust="spacingAndGlyphs"  stroke="#1a1a1a" stroke-width="0.14">0.2</text>
<line x1="281.30" y1="97.30" x2="281.30" y2="99.60" stroke="#3a3a3a" stroke-width="0.8" />
<text x="281.30" y="108.50" font-size="10.5" text-anchor="middle" fill="#1a1a1a" textLength="8.54" lengthAdjust="spacingAndGlyphs"  stroke="#1a1a1a" stroke-width="0.14">-2</text>
<line x1="360.50" y1="97.30" x2="360.50" y2="99.60" stroke="#3a3a3a" stroke-width="0.8" />
<text x="360.50" y="108.50" font-size="10.5" text-anchor="middle" fill="#1a1a1a" textLength="5.34" lengthAdjust="spacingAndGlyphs"  stroke="#1a1a1a" stroke-width="0.14">0</text>
<line x1="439.70" y1="97.30" x2="439.70" y2="99.60" stroke="#3a3a3a" stroke-width="0.8" />
<text x="439.70" y="108.50" font-size="10.5" text-anchor="middle" fill="#1a1a1a" textLength="5.34" lengthAdjust="spacingAndGlyphs"  stroke="#1a1a1a" stroke-width="0.14">2</text>
<line x1="518.90" y1="97.30" x2="518.90" y2="99.60" stroke="#3a3a3a" stroke-width="0.8" />
<text x="518.90" y="108.50" font-size="10.5" text-anchor="middle" fill="#1a1a1a" textLength="5.34" lengthAdjust="spacingAndGlyphs"  stroke="#1a1a1a" stroke-width="0.14">4</text>
<line x1="598.10" y1="97.30" x2="598.10" y2="99.60" stroke="#3a3a3a" stroke-width="0.8" />
<text x="598.10" y="108.50" font-size="10.5" text-anchor="middle" fill="#1a1a1a" textLength="5.34" lengthAdjust="spacingAndGlyphs"  stroke="#1a1a1a" stroke-width="0.14">6</text>
<line x1="677.30" y1="97.30" x2="677.30" y2="99.60" stroke="#3a3a3a" stroke-width="0.8" />
<text x="677.30" y="108.50" font-size="10.5" text-anchor="middle" fill="#1a1a1a" textLength="5.34" lengthAdjust="spacingAndGlyphs"  stroke="#1a1a1a" stroke-width="0.14">8</text>
<rect x="300.2" y="25.8" width="6.6" height="50.4" fill="url(#cbar)" stroke="#2a3d5e" stroke-width="0.7"/>
<text x="303.50" y="23.60" font-size="8.6" text-anchor="middle" fill="#ffffff" >1</text>
<text x="303.50" y="84.40" font-size="8.6" text-anchor="middle" fill="#ffffff" >0</text>
<text transform="translate(296.59999999999997,76.7) rotate(-90)" font-size="8.8" fill="#ffffff">Nor. intensity</text>
<text transform="translate(258.6,58.1) rotate(-90)" font-size="10" text-anchor="middle" fill="#1a1a1a" stroke="#1a1a1a" stroke-width="0.14"><tspan font-style="italic">q</tspan><tspan font-size="7" dy="2">z</tspan><tspan dy="-2"> (Å</tspan><tspan font-size="6.5" dy="-3.5">-1</tspan><tspan dy="3.5">)</tspan></text>
<text x="348.6" y="60.5" font-size="10" fill="#f4f6fa" font-style="italic">t<tspan font-size="7" dy="2">0</tspan></text>
<text x="387.8" y="60.5" font-size="10" fill="#f4f6fa" font-style="italic">t<tspan font-size="7" dy="2">1</tspan></text>
<text x="428.3" y="60.5" font-size="10" fill="#f4f6fa" font-style="italic">t<tspan font-size="7" dy="2">2</tspan></text>
<text x="501.2" y="65.2" font-size="10" fill="#f4f6fa" font-style="italic">t<tspan font-size="7" dy="2">3</tspan></text>
<text x="409.20" y="94.80" font-size="9.2" text-anchor="start" fill="#f4f6fa" >n=3</text>
<text x="446.80" y="87.60" font-size="9.2" text-anchor="start" fill="#f4f6fa" >n=2</text>
<text x="487.70" y="80.60" font-size="9.2" text-anchor="start" fill="#f4f6fa" >n=1</text>
<text x="533.3" y="49.4" font-size="8.7" fill="#f4f6fa">PbI<tspan font-size="6.2" dy="2">2</tspan><tspan dy="-2"> (100)</tspan></text>
<text x="595.20" y="44.70" font-size="8.8" text-anchor="start" fill="#f4f6fa" >3D (110)</text>
<line x1="562.50" y1="37.60" x2="568.83" y2="33.27" stroke="#ffffff" stroke-width="0.9" />
<polygon points="572.30,30.90 567.63,32.04 569.54,34.84" fill="#ffffff"/>
<line x1="609.00" y1="33.00" x2="624.79" y2="21.65" stroke="#ffffff" stroke-width="0.9" />
<polygon points="628.20,19.20 623.55,20.45 625.54,23.21" fill="#ffffff"/>
<text x="634.30" y="74.20" font-size="10" text-anchor="start" fill="#f4f6fa" >IPA</text>
<text x="667.80" y="6.70" font-size="9.5" text-anchor="end" fill="#1a1a1a"  stroke="#1a1a1a" stroke-width="0.14">3F-PEA&#160; / CsFAMA</text>
<text x="477.80" y="118.70" font-size="10" text-anchor="middle" fill="#1a1a1a"  stroke="#1a1a1a" stroke-width="0.14">Time (s)</text>
<text x="237.30" y="241.60" font-size="13" text-anchor="start" fill="#1a1a1a" font-weight="bold" stroke="#1a1a1a" stroke-width="0.14">f</text>
<rect x="283.2" y="237.2" width="397.00000000000006" height="84.10000000000002" fill="#3a5a8c"/>
<g clip-path="url(#clipF)">
<g clip-path="url(#clipFL)">
<rect x="283.2" y="300.5" width="79.0" height="20.80000000000001" fill="url(#glowf)"/>
<ellipse cx="346.2" cy="318.3" rx="20" ry="4" fill="#fff" opacity="0.22" filter="url(#blur1)"/>
<ellipse cx="357.2" cy="320.3" rx="9" ry="7" fill="#fff" opacity="0.3" filter="url(#blur1)"/>
<ellipse cx="350.2" cy="317.3" rx="10" ry="9" fill="#fff" opacity="0.35" filter="url(#blur2)"/>
<polygon points="342.2,237.2 362.2,237.2 362.2,244.2" fill="#fff" opacity="0.3" filter="url(#blur1)"/>
</g>
<rect x="283.2" y="237.2" width="397.00000000000006" height="5" fill="url(#topband)"/>
<g filter="url(#blur05)">
<line x1="350.00" y1="249.60" x2="680.20" y2="249.60" stroke="#ffffff" stroke-width="2.0" stroke-opacity="0.2"/>
<line x1="364.00" y1="241.60" x2="680.20" y2="241.60" stroke="#ffffff" stroke-width="1.6" stroke-opacity="0.12"/>
<line x1="450.00" y1="246.20" x2="680.20" y2="246.20" stroke="#ffffff" stroke-width="1.2" stroke-opacity="0.08"/>
<line x1="370.00" y1="311.20" x2="441.50" y2="311.20" stroke="#ffffff" stroke-width="1.3" stroke-opacity="0.13"/>
<line x1="441.50" y1="311.20" x2="560.00" y2="311.20" stroke="#ffffff" stroke-width="2.3" stroke-opacity="0.32"/>
<line x1="560.00" y1="311.20" x2="680.20" y2="311.20" stroke="#ffffff" stroke-width="2.6" stroke-opacity="0.55"/>
<line x1="455.00" y1="303.40" x2="680.20" y2="303.40" stroke="#ffffff" stroke-width="2.2" stroke-opacity="0.12"/>
<line x1="385.00" y1="318.90" x2="445.00" y2="318.90" stroke="#ffffff" stroke-width="1.2" stroke-opacity="0.12"/>
</g>
</g>
<line x1="362.20" y1="237.20" x2="362.20" y2="321.30" stroke="#d2d2d2" stroke-width="1.8" />
<line x1="402.40" y1="237.70" x2="402.40" y2="321.30" stroke="#ffffff" stroke-width="0.8" stroke-dasharray="2.6,1.6" stroke-opacity="0.9"/>
<line x1="441.50" y1="237.70" x2="441.50" y2="321.30" stroke="#ffffff" stroke-width="0.8" stroke-dasharray="2.6,1.6" stroke-opacity="0.9"/>
<line x1="599.80" y1="237.70" x2="599.80" y2="321.30" stroke="#ffffff" stroke-width="0.8" stroke-dasharray="2.6,1.6" stroke-opacity="0.9"/>
<line x1="283.20" y1="237.20" x2="680.20" y2="237.20" stroke="#9aa6b8" stroke-width="0.8" />
<line x1="680.20" y1="237.20" x2="680.20" y2="321.30" stroke="#4a5568" stroke-width="0.8" />
<line x1="283.20" y1="237.20" x2="283.20" y2="321.30" stroke="#3a3a3a" stroke-width="0.8" />
<line x1="283.20" y1="321.30" x2="680.20" y2="321.30" stroke="#3a3a3a" stroke-width="0.8" />
<line x1="280.90" y1="237.20" x2="283.20" y2="237.20" stroke="#3a3a3a" stroke-width="0.8" />
<text x="279.80" y="240.80" font-size="10.5" text-anchor="end" fill="#1a1a1a" textLength="13.34" lengthAdjust="spacingAndGlyphs"  stroke="#1a1a1a" stroke-width="0.14">1.0</text>
<line x1="280.90" y1="258.23" x2="283.20" y2="258.23" stroke="#3a3a3a" stroke-width="0.8" />
<text x="279.80" y="261.83" font-size="10.5" text-anchor="end" fill="#1a1a1a" textLength="13.34" lengthAdjust="spacingAndGlyphs"  stroke="#1a1a1a" stroke-width="0.14">0.8</text>
<line x1="280.90" y1="279.25" x2="283.20" y2="279.25" stroke="#3a3a3a" stroke-width="0.8" />
<text x="279.80" y="282.85" font-size="10.5" text-anchor="end" fill="#1a1a1a" textLength="13.34" lengthAdjust="spacingAndGlyphs"  stroke="#1a1a1a" stroke-width="0.14">0.6</text>
<line x1="280.90" y1="300.27" x2="283.20" y2="300.27" stroke="#3a3a3a" stroke-width="0.8" />
<text x="279.80" y="303.88" font-size="10.5" text-anchor="end" fill="#1a1a1a" textLength="13.34" lengthAdjust="spacingAndGlyphs"  stroke="#1a1a1a" stroke-width="0.14">0.4</text>
<line x1="280.90" y1="321.30" x2="283.20" y2="321.30" stroke="#3a3a3a" stroke-width="0.8" />
<text x="279.80" y="324.90" font-size="10.5" text-anchor="end" fill="#1a1a1a" textLength="13.34" lengthAdjust="spacingAndGlyphs"  stroke="#1a1a1a" stroke-width="0.14">0.2</text>
<line x1="282.70" y1="321.30" x2="282.70" y2="323.60" stroke="#3a3a3a" stroke-width="0.8" />
<text x="282.70" y="332.50" font-size="10.5" text-anchor="middle" fill="#1a1a1a" textLength="8.54" lengthAdjust="spacingAndGlyphs"  stroke="#1a1a1a" stroke-width="0.14">-2</text>
<line x1="362.20" y1="321.30" x2="362.20" y2="323.60" stroke="#3a3a3a" stroke-width="0.8" />
<text x="362.20" y="332.50" font-size="10.5" text-anchor="middle" fill="#1a1a1a" textLength="5.34" lengthAdjust="spacingAndGlyphs"  stroke="#1a1a1a" stroke-width="0.14">0</text>
<line x1="441.70" y1="321.30" x2="441.70" y2="323.60" stroke="#3a3a3a" stroke-width="0.8" />
<text x="441.70" y="332.50" font-size="10.5" text-anchor="middle" fill="#1a1a1a" textLength="5.34" lengthAdjust="spacingAndGlyphs"  stroke="#1a1a1a" stroke-width="0.14">2</text>
<line x1="521.20" y1="321.30" x2="521.20" y2="323.60" stroke="#3a3a3a" stroke-width="0.8" />
<text x="521.20" y="332.50" font-size="10.5" text-anchor="middle" fill="#1a1a1a" textLength="5.34" lengthAdjust="spacingAndGlyphs"  stroke="#1a1a1a" stroke-width="0.14">4</text>
<line x1="600.70" y1="321.30" x2="600.70" y2="323.60" stroke="#3a3a3a" stroke-width="0.8" />
<text x="600.70" y="332.50" font-size="10.5" text-anchor="middle" fill="#1a1a1a" textLength="5.34" lengthAdjust="spacingAndGlyphs"  stroke="#1a1a1a" stroke-width="0.14">6</text>
<line x1="680.20" y1="321.30" x2="680.20" y2="323.60" stroke="#3a3a3a" stroke-width="0.8" />
<text x="680.20" y="332.50" font-size="10.5" text-anchor="middle" fill="#1a1a1a" textLength="5.34" lengthAdjust="spacingAndGlyphs"  stroke="#1a1a1a" stroke-width="0.14">8</text>
<rect x="301.9" y="250.4" width="6.6" height="50.2" fill="url(#cbar)" stroke="#2a3d5e" stroke-width="0.7"/>
<text x="305.20" y="248.20" font-size="8.6" text-anchor="middle" fill="#ffffff" >1</text>
<text x="305.20" y="308.80" font-size="8.6" text-anchor="middle" fill="#ffffff" >0</text>
<text transform="translate(298.29999999999995,301.1) rotate(-90)" font-size="8.8" fill="#ffffff">Nor. intensity</text>
<text transform="translate(260.2,282.25) rotate(-90)" font-size="10" text-anchor="middle" fill="#1a1a1a" stroke="#1a1a1a" stroke-width="0.14"><tspan font-style="italic">q</tspan><tspan font-size="7" dy="2">z</tspan><tspan dy="-2"> (Å</tspan><tspan font-size="6.5" dy="-3.5">-1</tspan><tspan dy="3.5">)</tspan></text>
<text x="352.2" y="284.5" font-size="10" fill="#f4f6fa" font-style="italic">t<tspan font-size="7" dy="2">0</tspan></text>
<text x="391.2" y="284.5" font-size="10" fill="#f4f6fa" font-style="italic">t<tspan font-size="7" dy="2">1</tspan></text>
<text x="429.4" y="284.5" font-size="10" fill="#f4f6fa" font-style="italic">t<tspan font-size="7" dy="2">2</tspan></text>
<text x="586.8" y="285.4" font-size="10" fill="#f4f6fa" font-style="italic">t<tspan font-size="7" dy="2">3</tspan></text>
<text x="414.40" y="318.80" font-size="9.2" text-anchor="start" fill="#f4f6fa" >n=3</text>
<text x="450.90" y="314.20" font-size="9.2" text-anchor="start" fill="#f4f6fa" >n=2</text>
<text x="492.50" y="305.60" font-size="9.2" text-anchor="start" fill="#f4f6fa" >n=1</text>
<text x="509.0" y="269.8" font-size="8.7" fill="#f4f6fa">PbI<tspan font-size="6.2" dy="2">2</tspan><tspan dy="-2"> (100)</tspan></text>
<text x="612.70" y="267.60" font-size="8.8" text-anchor="start" fill="#f4f6fa" >3D (110)</text>
<line x1="534.20" y1="258.40" x2="540.69" y2="254.11" stroke="#ffffff" stroke-width="0.9" />
<polygon points="544.20,251.80 539.51,252.86 541.38,255.70" fill="#ffffff"/>
<line x1="622.00" y1="255.30" x2="638.31" y2="244.43" stroke="#ffffff" stroke-width="0.9" />
<polygon points="641.80,242.10 637.11,243.18 639.00,246.01" fill="#ffffff"/>
<text x="618.30" y="297.50" font-size="10" text-anchor="start" fill="#f4f6fa" >IPA + DMS</text>
<text x="676.90" y="229.90" font-size="9.5" text-anchor="end" fill="#1a1a1a"  stroke="#1a1a1a" stroke-width="0.14">DMS + 3F-PEA&#160; / CsFAMA</text>
<text x="480.00" y="342.70" font-size="10" text-anchor="middle" fill="#1a1a1a"  stroke="#1a1a1a" stroke-width="0.14">Time (s)</text>
<text x="241.00" y="126.60" font-size="13" text-anchor="start" fill="#1a1a1a" font-weight="bold" stroke="#1a1a1a" stroke-width="0.14">e</text>
<rect x="360" y="136.3" width="159.60000000000002" height="55.19999999999999" fill="url(#grayG)"/>
<rect x="519.6" y="136.3" width="159.10000000000002" height="55.19999999999999" fill="url(#blueG)"/>
<line x1="360.00" y1="136.30" x2="360.00" y2="191.50" stroke="#9a9a9a" stroke-width="0.8" stroke-dasharray="2.4,1.6"/>
<line x1="519.60" y1="136.30" x2="519.60" y2="191.50" stroke="#8a8a8a" stroke-width="0.8" stroke-dasharray="2.4,1.6"/>
<path d="M378.00,188.20 C381.67,186.30 393.00,180.30 400.00,176.80 C407.00,173.30 413.33,170.07 420.00,167.20 C426.67,164.33 433.33,161.80 440.00,159.60 C446.67,157.40 453.33,155.62 460.00,154.00 C466.67,152.38 473.33,151.12 480.00,149.90 C486.67,148.68 493.33,147.62 500.00,146.70 C506.67,145.78 513.33,145.02 520.00,144.40 C526.67,143.78 533.33,143.35 540.00,143.00 C546.67,142.65 550.00,142.48 560.00,142.30 C570.00,142.12 580.25,141.98 600.00,141.90 C619.75,141.82 665.42,141.82 678.50,141.80" fill="none" stroke="#86ade0" stroke-width="0.9"/>
<circle cx="379.9" cy="186.6" r="2.3" fill="#eef3fb" fill-opacity="0.6" stroke="#94b8e4" stroke-width="0.8"/>
<circle cx="399.9" cy="176.3" r="2.3" fill="#eef3fb" fill-opacity="0.6" stroke="#94b8e4" stroke-width="0.8"/>
<circle cx="419.7" cy="166.4" r="2.3" fill="#eef3fb" fill-opacity="0.6" stroke="#94b8e4" stroke-width="0.8"/>
<circle cx="439.8" cy="159.1" r="2.3" fill="#eef3fb" fill-opacity="0.6" stroke="#94b8e4" stroke-width="0.8"/>
<circle cx="459.7" cy="154.8" r="2.3" fill="#eef3fb" fill-opacity="0.6" stroke="#94b8e4" stroke-width="0.8"/>
<circle cx="479.8" cy="150.8" r="2.3" fill="#eef3fb" fill-opacity="0.6" stroke="#94b8e4" stroke-width="0.8"/>
<circle cx="499.6" cy="146.7" r="2.3" fill="#eef3fb" fill-opacity="0.6" stroke="#94b8e4" stroke-width="0.8"/>
<circle cx="519.6" cy="143.7" r="2.3" fill="#eef3fb" fill-opacity="0.6" stroke="#94b8e4" stroke-width="0.8"/>
<circle cx="539.5" cy="142.8" r="2.3" fill="#eef3fb" fill-opacity="0.6" stroke="#94b8e4" stroke-width="0.8"/>
<circle cx="559.3" cy="142.3" r="2.3" fill="#eef3fb" fill-opacity="0.6" stroke="#94b8e4" stroke-width="0.8"/>
<circle cx="579.4" cy="141.8" r="2.3" fill="#eef3fb" fill-opacity="0.6" stroke="#94b8e4" stroke-width="0.8"/>
<circle cx="599.2" cy="141.8" r="2.3" fill="#eef3fb" fill-opacity="0.6" stroke="#94b8e4" stroke-width="0.8"/>
<circle cx="619.0" cy="141.8" r="2.3" fill="#eef3fb" fill-opacity="0.6" stroke="#94b8e4" stroke-width="0.8"/>
<circle cx="639.0" cy="141.8" r="2.3" fill="#eef3fb" fill-opacity="0.6" stroke="#94b8e4" stroke-width="0.8"/>
<circle cx="659.3" cy="141.8" r="2.3" fill="#eef3fb" fill-opacity="0.6" stroke="#94b8e4" stroke-width="0.8"/>
<circle cx="678.0" cy="141.8" r="2.3" fill="#eef3fb" fill-opacity="0.6" stroke="#94b8e4" stroke-width="0.8"/>
<line x1="280.60" y1="136.30" x2="678.70" y2="136.30" stroke="#b8b8b8" stroke-width="1" />
<line x1="678.70" y1="136.30" x2="678.70" y2="191.50" stroke="#b8b8b8" stroke-width="1" />
<line x1="280.60" y1="191.50" x2="678.70" y2="191.50" stroke="#a8a8a8" stroke-width="1.3" />
<line x1="280.60" y1="136.30" x2="280.60" y2="191.50" stroke="#6a6a6a" stroke-width="1" />
<line x1="278.30" y1="145.50" x2="280.60" y2="145.50" stroke="#555" stroke-width="0.8" />
<text x="277.60" y="149.10" font-size="10.5" text-anchor="end" fill="#1a1a1a" textLength="18.68" lengthAdjust="spacingAndGlyphs"  stroke="#1a1a1a" stroke-width="0.14">0.20</text>
<line x1="278.30" y1="163.30" x2="280.60" y2="163.30" stroke="#555" stroke-width="0.8" />
<text x="277.60" y="166.90" font-size="10.5" text-anchor="end" fill="#1a1a1a" textLength="18.68" lengthAdjust="spacingAndGlyphs"  stroke="#1a1a1a" stroke-width="0.14">0.16</text>
<line x1="278.30" y1="182.20" x2="280.60" y2="182.20" stroke="#555" stroke-width="0.8" />
<text x="277.60" y="185.80" font-size="10.5" text-anchor="end" fill="#1a1a1a" textLength="18.68" lengthAdjust="spacingAndGlyphs"  stroke="#1a1a1a" stroke-width="0.14">0.12</text>
<line x1="280.50" y1="191.50" x2="280.50" y2="193.70" stroke="#555" stroke-width="0.8" />
<text x="280.50" y="202.50" font-size="10.5" text-anchor="middle" fill="#1a1a1a" textLength="8.54" lengthAdjust="spacingAndGlyphs"  stroke="#1a1a1a" stroke-width="0.14">-2</text>
<line x1="360.00" y1="191.50" x2="360.00" y2="193.70" stroke="#555" stroke-width="0.8" />
<text x="360.00" y="202.50" font-size="10.5" text-anchor="middle" fill="#1a1a1a" textLength="5.34" lengthAdjust="spacingAndGlyphs"  stroke="#1a1a1a" stroke-width="0.14">0</text>
<line x1="439.50" y1="191.50" x2="439.50" y2="193.70" stroke="#555" stroke-width="0.8" />
<text x="439.50" y="202.50" font-size="10.5" text-anchor="middle" fill="#1a1a1a" textLength="5.34" lengthAdjust="spacingAndGlyphs"  stroke="#1a1a1a" stroke-width="0.14">2</text>
<line x1="519.00" y1="191.50" x2="519.00" y2="193.70" stroke="#555" stroke-width="0.8" />
<text x="519.00" y="202.50" font-size="10.5" text-anchor="middle" fill="#1a1a1a" textLength="5.34" lengthAdjust="spacingAndGlyphs"  stroke="#1a1a1a" stroke-width="0.14">4</text>
<line x1="598.50" y1="191.50" x2="598.50" y2="193.70" stroke="#555" stroke-width="0.8" />
<text x="598.50" y="202.50" font-size="10.5" text-anchor="middle" fill="#1a1a1a" textLength="5.34" lengthAdjust="spacingAndGlyphs"  stroke="#1a1a1a" stroke-width="0.14">6</text>
<line x1="678.00" y1="191.50" x2="678.00" y2="193.70" stroke="#555" stroke-width="0.8" />
<text x="678.00" y="202.50" font-size="10.5" text-anchor="middle" fill="#1a1a1a" textLength="5.34" lengthAdjust="spacingAndGlyphs"  stroke="#1a1a1a" stroke-width="0.14">8</text>
<text transform="translate(253.2,163.9) rotate(-90)" font-size="9.2" text-anchor="middle" fill="#1a1a1a" stroke="#1a1a1a" stroke-width="0.14">Nor.int.intensity</text>
<text x="348" y="174.4" font-size="9.6" fill="#1a1a1a" font-style="italic" stroke="#1a1a1a" stroke-width="0.14">t<tspan font-size="6.8" dy="2">0</tspan></text>
<text x="505.8" y="174.4" font-size="9.6" fill="#1a1a1a" font-style="italic" stroke="#1a1a1a" stroke-width="0.14">t<tspan font-size="6.8" dy="2">3</tspan></text>
<text x="635.30" y="177.00" font-size="9.8" text-anchor="start" fill="#1a1a1a"  stroke="#1a1a1a" stroke-width="0.14">n=2</text>
<text x="477.00" y="215.90" font-size="10" text-anchor="middle" fill="#1a1a1a"  stroke="#1a1a1a" stroke-width="0.14">Time (s)</text>
<text x="236.20" y="355.60" font-size="13" text-anchor="start" fill="#1a1a1a" font-weight="bold" stroke="#1a1a1a" stroke-width="0.14">g</text>
<rect x="364.3" y="361.5" width="238.59999999999997" height="55.60000000000002" fill="url(#grayG)"/>
<rect x="602.9" y="361.5" width="79.5" height="55.60000000000002" fill="url(#blueG)"/>
<line x1="364.30" y1="361.50" x2="364.30" y2="417.10" stroke="#222" stroke-width="0.8" stroke-dasharray="2.4,1.6"/>
<line x1="602.90" y1="361.50" x2="602.90" y2="417.10" stroke="#8a8a8a" stroke-width="0.8" stroke-dasharray="2.4,1.6"/>
<path d="M381.60,416.80 C388.00,414.58 407.77,407.72 420.00,403.50 C432.23,399.28 443.33,395.05 455.00,391.50 C466.67,387.95 478.33,384.92 490.00,382.20 C501.67,379.48 512.50,377.20 525.00,375.20 C537.50,373.20 552.50,371.40 565.00,370.20 C577.50,369.00 580.50,368.57 600.00,368.00 C619.50,367.43 668.33,367.00 682.00,366.80" fill="none" stroke="#fcd2b2" stroke-width="0.9"/>
<circle cx="383.4" cy="415.4" r="2.4" fill="#feebd8" stroke="#f9c18f" stroke-width="0.8"/>
<circle cx="403.4" cy="405.8" r="2.4" fill="#feebd8" stroke="#f9c18f" stroke-width="0.8"/>
<circle cx="423.3" cy="397.5" r="2.4" fill="#feebd8" stroke="#f9c18f" stroke-width="0.8"/>
<circle cx="443.3" cy="393.1" r="2.4" fill="#feebd8" stroke="#f9c18f" stroke-width="0.8"/>
<circle cx="463.3" cy="387.6" r="2.4" fill="#feebd8" stroke="#f9c18f" stroke-width="0.8"/>
<circle cx="483.3" cy="384.6" r="2.4" fill="#feebd8" stroke="#f9c18f" stroke-width="0.8"/>
<circle cx="503.2" cy="381.4" r="2.4" fill="#feebd8" stroke="#f9c18f" stroke-width="0.8"/>
<circle cx="523.2" cy="376.4" r="2.4" fill="#feebd8" stroke="#f9c18f" stroke-width="0.8"/>
<circle cx="543.0" cy="374.8" r="2.4" fill="#feebd8" stroke="#f9c18f" stroke-width="0.8"/>
<circle cx="562.9" cy="371.3" r="2.4" fill="#feebd8" stroke="#f9c18f" stroke-width="0.8"/>
<circle cx="582.6" cy="369.2" r="2.4" fill="#feebd8" stroke="#f9c18f" stroke-width="0.8"/>
<circle cx="602.5" cy="366.0" r="2.4" fill="#feebd8" stroke="#f9c18f" stroke-width="0.8"/>
<circle cx="622.7" cy="365.1" r="2.4" fill="#feebd8" stroke="#f9c18f" stroke-width="0.8"/>
<circle cx="642.7" cy="366.6" r="2.4" fill="#feebd8" stroke="#f9c18f" stroke-width="0.8"/>
<circle cx="662.4" cy="365.5" r="2.4" fill="#feebd8" stroke="#f9c18f" stroke-width="0.8"/>
<circle cx="682.0" cy="367.0" r="2.4" fill="#feebd8" stroke="#f9c18f" stroke-width="0.8"/>
<line x1="283.70" y1="361.50" x2="682.40" y2="361.50" stroke="#707070" stroke-width="1" />
<line x1="682.40" y1="361.50" x2="682.40" y2="417.10" stroke="#707070" stroke-width="1" />
<line x1="283.70" y1="417.10" x2="682.40" y2="417.10" stroke="#707070" stroke-width="1" />
<line x1="283.70" y1="361.50" x2="283.70" y2="417.10" stroke="#707070" stroke-width="1" />
<line x1="281.40" y1="370.90" x2="283.70" y2="370.90" stroke="#555" stroke-width="0.8" />
<text x="280.20" y="374.50" font-size="10.5" text-anchor="end" fill="#1a1a1a" textLength="18.68" lengthAdjust="spacingAndGlyphs"  stroke="#1a1a1a" stroke-width="0.14">0.20</text>
<line x1="281.40" y1="389.10" x2="283.70" y2="389.10" stroke="#555" stroke-width="0.8" />
<text x="280.20" y="392.70" font-size="10.5" text-anchor="end" fill="#1a1a1a" textLength="18.68" lengthAdjust="spacingAndGlyphs"  stroke="#1a1a1a" stroke-width="0.14">0.16</text>
<line x1="281.40" y1="407.40" x2="283.70" y2="407.40" stroke="#555" stroke-width="0.8" />
<text x="280.20" y="411.00" font-size="10.5" text-anchor="end" fill="#1a1a1a" textLength="18.68" lengthAdjust="spacingAndGlyphs"  stroke="#1a1a1a" stroke-width="0.14">0.12</text>
<line x1="284.20" y1="417.10" x2="284.20" y2="419.30" stroke="#555" stroke-width="0.8" />
<text x="284.20" y="428.10" font-size="10.5" text-anchor="middle" fill="#1a1a1a" textLength="8.54" lengthAdjust="spacingAndGlyphs"  stroke="#1a1a1a" stroke-width="0.14">-2</text>
<line x1="363.80" y1="417.10" x2="363.80" y2="419.30" stroke="#555" stroke-width="0.8" />
<text x="363.80" y="428.10" font-size="10.5" text-anchor="middle" fill="#1a1a1a" textLength="5.34" lengthAdjust="spacingAndGlyphs"  stroke="#1a1a1a" stroke-width="0.14">0</text>
<line x1="443.40" y1="417.10" x2="443.40" y2="419.30" stroke="#555" stroke-width="0.8" />
<text x="443.40" y="428.10" font-size="10.5" text-anchor="middle" fill="#1a1a1a" textLength="5.34" lengthAdjust="spacingAndGlyphs"  stroke="#1a1a1a" stroke-width="0.14">2</text>
<line x1="523.00" y1="417.10" x2="523.00" y2="419.30" stroke="#555" stroke-width="0.8" />
<text x="523.00" y="428.10" font-size="10.5" text-anchor="middle" fill="#1a1a1a" textLength="5.34" lengthAdjust="spacingAndGlyphs"  stroke="#1a1a1a" stroke-width="0.14">4</text>
<line x1="602.60" y1="417.10" x2="602.60" y2="419.30" stroke="#555" stroke-width="0.8" />
<text x="602.60" y="428.10" font-size="10.5" text-anchor="middle" fill="#1a1a1a" textLength="5.34" lengthAdjust="spacingAndGlyphs"  stroke="#1a1a1a" stroke-width="0.14">6</text>
<line x1="682.20" y1="417.10" x2="682.20" y2="419.30" stroke="#555" stroke-width="0.8" />
<text x="682.20" y="428.10" font-size="10.5" text-anchor="middle" fill="#1a1a1a" textLength="5.34" lengthAdjust="spacingAndGlyphs"  stroke="#1a1a1a" stroke-width="0.14">8</text>
<text transform="translate(257.2,389.3) rotate(-90)" font-size="9.7" text-anchor="middle" fill="#1a1a1a" stroke="#1a1a1a" stroke-width="0.14">Nor.int.intensity</text>
<text x="354.5" y="396.2" font-size="9.6" fill="#1a1a1a" font-style="italic" stroke="#1a1a1a" stroke-width="0.14">t<tspan font-size="6.8" dy="2">0</tspan></text>
<text x="590" y="396.4" font-size="9.6" fill="#1a1a1a" font-style="italic" stroke="#1a1a1a" stroke-width="0.14">t<tspan font-size="6.8" dy="2">3</tspan></text>
<text x="639.90" y="403.60" font-size="9.8" text-anchor="start" fill="#1a1a1a"  stroke="#1a1a1a" stroke-width="0.14">n=2</text>
<text x="477.40" y="441.50" font-size="10" text-anchor="middle" fill="#1a1a1a"  stroke="#1a1a1a" stroke-width="0.14">Time (s)</text>
<text x="238.90" y="474.20" font-size="13" text-anchor="start" fill="#1a1a1a" font-weight="bold" stroke="#1a1a1a" stroke-width="0.14">h</text>
<rect x="283.7" y="472" width="163.60000000000002" height="146.79999999999995" fill="none" stroke="#a8a8a8" stroke-width="1"/>
<line x1="281.40" y1="484.30" x2="283.70" y2="484.30" stroke="#777" stroke-width="0.8" />
<text x="279.60" y="488.00" font-size="10.5" text-anchor="end" fill="#1a1a1a" textLength="16.89" lengthAdjust="spacingAndGlyphs"  stroke="#1a1a1a" stroke-width="0.14">-1.4</text>
<line x1="281.40" y1="514.00" x2="283.70" y2="514.00" stroke="#777" stroke-width="0.8" />
<text x="279.60" y="517.70" font-size="10.5" text-anchor="end" fill="#1a1a1a" textLength="16.89" lengthAdjust="spacingAndGlyphs"  stroke="#1a1a1a" stroke-width="0.14">-1.6</text>
<line x1="281.40" y1="544.20" x2="283.70" y2="544.20" stroke="#777" stroke-width="0.8" />
<text x="279.60" y="547.90" font-size="10.5" text-anchor="end" fill="#1a1a1a" textLength="16.89" lengthAdjust="spacingAndGlyphs"  stroke="#1a1a1a" stroke-width="0.14">-1.8</text>
<line x1="281.40" y1="574.30" x2="283.70" y2="574.30" stroke="#777" stroke-width="0.8" />
<text x="279.60" y="578.00" font-size="10.5" text-anchor="end" fill="#1a1a1a" textLength="16.89" lengthAdjust="spacingAndGlyphs"  stroke="#1a1a1a" stroke-width="0.14">-2.0</text>
<line x1="281.40" y1="604.40" x2="283.70" y2="604.40" stroke="#777" stroke-width="0.8" />
<text x="279.60" y="608.10" font-size="10.5" text-anchor="end" fill="#1a1a1a" textLength="16.89" lengthAdjust="spacingAndGlyphs"  stroke="#1a1a1a" stroke-width="0.14">-2.2</text>
<line x1="302.80" y1="618.80" x2="302.80" y2="621.10" stroke="#777" stroke-width="0.8" />
<text x="302.80" y="632.00" font-size="10.5" text-anchor="middle" fill="#1a1a1a" textLength="8.71" lengthAdjust="spacingAndGlyphs"  stroke="#1a1a1a" stroke-width="0.14">-1</text>
<line x1="334.20" y1="618.80" x2="334.20" y2="621.10" stroke="#777" stroke-width="0.8" />
<text x="334.20" y="632.00" font-size="10.5" text-anchor="middle" fill="#1a1a1a" textLength="5.45" lengthAdjust="spacingAndGlyphs"  stroke="#1a1a1a" stroke-width="0.14">0</text>
<line x1="365.70" y1="618.80" x2="365.70" y2="621.10" stroke="#777" stroke-width="0.8" />
<text x="365.70" y="632.00" font-size="10.5" text-anchor="middle" fill="#1a1a1a" textLength="5.45" lengthAdjust="spacingAndGlyphs"  stroke="#1a1a1a" stroke-width="0.14">1</text>
<line x1="396.80" y1="618.80" x2="396.80" y2="621.10" stroke="#777" stroke-width="0.8" />
<text x="396.80" y="632.00" font-size="10.5" text-anchor="middle" fill="#1a1a1a" textLength="5.45" lengthAdjust="spacingAndGlyphs"  stroke="#1a1a1a" stroke-width="0.14">2</text>
<line x1="428.30" y1="618.80" x2="428.30" y2="621.10" stroke="#777" stroke-width="0.8" />
<text x="428.30" y="632.00" font-size="10.5" text-anchor="middle" fill="#1a1a1a" textLength="5.45" lengthAdjust="spacingAndGlyphs"  stroke="#1a1a1a" stroke-width="0.14">3</text>
<text x="350.2" y="643.6" font-size="10" fill="#1a1a1a" stroke="#1a1a1a" stroke-width="0.14">ln (<tspan font-style="italic">t</tspan>-<tspan font-style="italic">t</tspan><tspan font-size="7" dy="2">0</tspan><tspan dy="-2">)</tspan></text>
<text transform="translate(261.3,544.6) rotate(-90)" font-size="10.8" text-anchor="middle" fill="#1a1a1a" stroke="#1a1a1a" stroke-width="0.14">ln (-ln (1-<tspan font-style="italic">α</tspan>))</text>
<rect x="293.2" y="483.3" width="3" height="3" fill="#2f7cc4"/>
<text x="305.80" y="488.40" font-size="9.8" text-anchor="start" fill="#1a1a1a"  stroke="#1a1a1a" stroke-width="0.14">IPA</text>
<circle cx="294.7" cy="495.4" r="1.8" fill="#f8a67a"/>
<text x="305.80" y="499.00" font-size="9.8" text-anchor="start" fill="#1a1a1a"  stroke="#1a1a1a" stroke-width="0.14">IPA + DMS</text>
<line x1="292.40" y1="607.00" x2="368.30" y2="486.70" stroke="#222" stroke-width="1.05" stroke-dasharray="2.8,1.9"/>
<rect x="298.1" y="593.5" width="3.5" height="3.5" fill="#2f7cc4"/>
<rect x="319.2" y="563.9" width="3.5" height="3.5" fill="#2f7cc4"/>
<rect x="332.1" y="540.5" width="3.5" height="3.5" fill="#2f7cc4"/>
<rect x="341.2" y="524.4" width="3.5" height="3.5" fill="#2f7cc4"/>
<rect x="347.9" y="515.2" width="3.5" height="3.5" fill="#2f7cc4"/>
<rect x="354.1" y="507.6" width="3.5" height="3.5" fill="#2f7cc4"/>
<rect x="359.1" y="499.8" width="3.5" height="3.5" fill="#2f7cc4"/>
<rect x="363.1" y="494.6" width="3.5" height="3.5" fill="#2f7cc4"/>
<rect x="364.6" y="493.3" width="3.5" height="3.5" fill="#2f7cc4"/>
<rect x="366.2" y="492.4" width="3.5" height="3.5" fill="#2f7cc4"/>
<rect x="367.8" y="491.8" width="3.5" height="3.5" fill="#2f7cc4"/>
<rect x="369.3" y="491.5" width="3.5" height="3.5" fill="#2f7cc4"/>
<rect x="370.9" y="491.3" width="3.5" height="3.5" fill="#2f7cc4"/>
<rect x="372.4" y="491.2" width="3.5" height="3.5" fill="#2f7cc4"/>
<rect x="374.0" y="491.1" width="3.5" height="3.5" fill="#2f7cc4"/>
<rect x="375.5" y="491.0" width="3.5" height="3.5" fill="#2f7cc4"/>
<rect x="377.1" y="491.0" width="3.5" height="3.5" fill="#2f7cc4"/>
<rect x="378.6" y="491.0" width="3.5" height="3.5" fill="#2f7cc4"/>
<rect x="380.2" y="491.0" width="3.5" height="3.5" fill="#2f7cc4"/>
<rect x="381.7" y="491.0" width="3.5" height="3.5" fill="#2f7cc4"/>
<rect x="383.3" y="491.0" width="3.5" height="3.5" fill="#2f7cc4"/>
<rect x="384.8" y="491.0" width="3.5" height="3.5" fill="#2f7cc4"/>
<rect x="386.4" y="491.0" width="3.5" height="3.5" fill="#2f7cc4"/>
<text x="373.4" y="506.6" font-size="9.7" fill="#1a1a1a" stroke="#1a1a1a" stroke-width="0.14"><tspan font-style="italic">k</tspan> = 2.61×10<tspan font-size="6.6" dy="-3.5">-3</tspan><tspan dy="3.5"> s</tspan><tspan font-size="6.6" dy="-3.5">-1</tspan></text>
<line x1="373.70" y1="527.00" x2="373.70" y2="606.40" stroke="#999" stroke-width="0.9" />
<line x1="373.70" y1="606.40" x2="442.00" y2="606.40" stroke="#999" stroke-width="0.9" />
<line x1="371.60" y1="541.20" x2="373.70" y2="541.20" stroke="#777" stroke-width="0.7" />
<text x="371.20" y="544.80" font-size="10.5" text-anchor="end" fill="#1a1a1a" textLength="16.20" lengthAdjust="spacingAndGlyphs"  stroke="#1a1a1a" stroke-width="0.14">-1.5</text>
<line x1="371.60" y1="565.20" x2="373.70" y2="565.20" stroke="#777" stroke-width="0.7" />
<text x="371.20" y="568.80" font-size="10.5" text-anchor="end" fill="#1a1a1a" textLength="16.20" lengthAdjust="spacingAndGlyphs"  stroke="#1a1a1a" stroke-width="0.14">-1.8</text>
<line x1="371.60" y1="590.30" x2="373.70" y2="590.30" stroke="#777" stroke-width="0.7" />
<text x="371.20" y="593.90" font-size="10.5" text-anchor="end" fill="#1a1a1a" textLength="16.20" lengthAdjust="spacingAndGlyphs"  stroke="#1a1a1a" stroke-width="0.14">-2.1</text>
<line x1="384.10" y1="606.40" x2="384.10" y2="608.50" stroke="#777" stroke-width="0.7" />
<text x="384.10" y="616.20" font-size="10.5" text-anchor="middle" fill="#1a1a1a" textLength="8.36" lengthAdjust="spacingAndGlyphs"  stroke="#1a1a1a" stroke-width="0.14">-1</text>
<line x1="406.50" y1="606.40" x2="406.50" y2="608.50" stroke="#777" stroke-width="0.7" />
<text x="406.50" y="616.20" font-size="10.5" text-anchor="middle" fill="#1a1a1a" textLength="5.23" lengthAdjust="spacingAndGlyphs"  stroke="#1a1a1a" stroke-width="0.14">0</text>
<line x1="428.70" y1="606.40" x2="428.70" y2="608.50" stroke="#777" stroke-width="0.7" />
<text x="428.70" y="616.20" font-size="10.5" text-anchor="middle" fill="#1a1a1a" textLength="5.23" lengthAdjust="spacingAndGlyphs"  stroke="#1a1a1a" stroke-width="0.14">1</text>
<line x1="379.70" y1="602.30" x2="441.50" y2="536.50" stroke="#222" stroke-width="1.05" stroke-dasharray="2.8,1.9"/>
<circle cx="382.2" cy="598.8" r="2.15" fill="#f8a67a"/>
<circle cx="397.4" cy="583.7" r="2.15" fill="#f8a67a"/>
<circle cx="406.5" cy="571.9" r="2.15" fill="#f8a67a"/>
<circle cx="412.9" cy="566" r="2.15" fill="#f8a67a"/>
<circle cx="417.9" cy="559.5" r="2.15" fill="#f8a67a"/>
<circle cx="422" cy="556.1" r="2.15" fill="#f8a67a"/>
<circle cx="425.5" cy="552.3" r="2.15" fill="#f8a67a"/>
<circle cx="428.3" cy="547.6" r="2.15" fill="#f8a67a"/>
<circle cx="430.6" cy="545.7" r="2.15" fill="#f8a67a"/>
<circle cx="433.4" cy="542.8" r="2.15" fill="#f8a67a"/>
<circle cx="435.3" cy="541" r="2.15" fill="#f8a67a"/>
<circle cx="437.3" cy="539.6" r="2.15" fill="#f8a67a"/>
<circle cx="439.2" cy="538.2" r="2.15" fill="#f8a67a"/>
<circle cx="440.8" cy="536.8" r="2.15" fill="#f8a67a"/>
<text x="377" y="532.6" font-size="9.7" fill="#1a1a1a" stroke="#1a1a1a" stroke-width="0.14"><tspan font-style="italic">k</tspan> = 1.13×10<tspan font-size="6.6" dy="-3.5">-3</tspan><tspan dy="3.5"> s</tspan><tspan font-size="6.6" dy="-3.5">-1</tspan></text>
<text x="486.00" y="474.20" font-size="13" text-anchor="start" fill="#1a1a1a" font-weight="bold" stroke="#1a1a1a" stroke-width="0.14">i</text>
<rect x="523.5" y="472.4" width="160.29999999999995" height="146.5" fill="none" stroke="#a8a8a8" stroke-width="1"/>
<line x1="521.20" y1="480.90" x2="523.50" y2="480.90" stroke="#777" stroke-width="0.8" />
<text x="518.40" y="484.60" font-size="10.5" text-anchor="end" fill="#1a1a1a" textLength="16.89" lengthAdjust="spacingAndGlyphs"  stroke="#1a1a1a" stroke-width="0.14">-5.3</text>
<line x1="521.20" y1="513.20" x2="523.50" y2="513.20" stroke="#777" stroke-width="0.8" />
<text x="518.40" y="516.90" font-size="10.5" text-anchor="end" fill="#1a1a1a" textLength="16.89" lengthAdjust="spacingAndGlyphs"  stroke="#1a1a1a" stroke-width="0.14">-5.7</text>
<line x1="521.20" y1="546.30" x2="523.50" y2="546.30" stroke="#777" stroke-width="0.8" />
<text x="518.40" y="550.00" font-size="10.5" text-anchor="end" fill="#1a1a1a" textLength="16.89" lengthAdjust="spacingAndGlyphs"  stroke="#1a1a1a" stroke-width="0.14">-6.1</text>
<line x1="521.20" y1="578.30" x2="523.50" y2="578.30" stroke="#777" stroke-width="0.8" />
<text x="518.40" y="582.00" font-size="10.5" text-anchor="end" fill="#1a1a1a" textLength="16.89" lengthAdjust="spacingAndGlyphs"  stroke="#1a1a1a" stroke-width="0.14">-6.5</text>
<line x1="521.20" y1="611.30" x2="523.50" y2="611.30" stroke="#777" stroke-width="0.8" />
<text x="518.40" y="615.00" font-size="10.5" text-anchor="end" fill="#1a1a1a" textLength="16.89" lengthAdjust="spacingAndGlyphs"  stroke="#1a1a1a" stroke-width="0.14">-6.9</text>
<line x1="549.40" y1="618.90" x2="549.40" y2="621.20" stroke="#777" stroke-width="0.8" />
<text x="549.40" y="632.10" font-size="10.5" text-anchor="middle" fill="#1a1a1a" textLength="29.97" lengthAdjust="spacingAndGlyphs"  stroke="#1a1a1a" stroke-width="0.14">0.0030</text>
<line x1="603.20" y1="618.90" x2="603.20" y2="621.20" stroke="#777" stroke-width="0.8" />
<text x="603.20" y="632.10" font-size="10.5" text-anchor="middle" fill="#1a1a1a" textLength="29.97" lengthAdjust="spacingAndGlyphs"  stroke="#1a1a1a" stroke-width="0.14">0.0031</text>
<line x1="657.00" y1="618.90" x2="657.00" y2="621.20" stroke="#777" stroke-width="0.8" />
<text x="657.00" y="632.10" font-size="10.5" text-anchor="middle" fill="#1a1a1a" textLength="29.97" lengthAdjust="spacingAndGlyphs"  stroke="#1a1a1a" stroke-width="0.14">0.0032</text>
<text x="587.6" y="646.6" font-size="10" fill="#1a1a1a" stroke="#1a1a1a" stroke-width="0.14">T<tspan font-size="6.6" dy="-3.5">-1</tspan><tspan dy="3.5">(K</tspan><tspan font-size="6.6" dy="-3.5">-1</tspan><tspan dy="3.5">)</tspan></text>
<text transform="translate(497,546.8) rotate(-90)" font-size="10" text-anchor="middle" fill="#1a1a1a" stroke="#1a1a1a" stroke-width="0.14">ln(<tspan font-style="italic">k</tspan>)</text>
<line x1="539.10" y1="489.20" x2="671.00" y2="536.60" stroke="#222" stroke-width="1.05" stroke-dasharray="2.8,1.9"/>
<line x1="535.00" y1="526.50" x2="670.70" y2="606.80" stroke="#222" stroke-width="1.05" stroke-dasharray="2.8,1.9"/>
<rect x="547.7" y="491.7" width="4" height="4" fill="#3a6fc0"/>
<rect x="598.7" y="506.4" width="4" height="4" fill="#3a6fc0"/>
<rect x="654.8" y="531.5" width="4" height="4" fill="#3a6fc0"/>
<circle cx="549.7" cy="536.7" r="2.4" fill="#f8a67a"/>
<circle cx="600.6" cy="575.6" r="2.4" fill="#f8a67a"/>
<circle cx="657" cy="601.8" r="2.4" fill="#f8a67a"/>
<text x="613.4" y="507.6" font-size="10" fill="#1a1a1a" stroke="#1a1a1a" stroke-width="0.14"><tspan font-style="italic">E</tspan><tspan font-size="7" dy="2">a</tspan><tspan dy="-2">=21.3 kJ/mol</tspan></text>
<text x="609.3" y="566.2" font-size="10" fill="#1a1a1a" stroke="#1a1a1a" stroke-width="0.14"><tspan font-style="italic">E</tspan><tspan font-size="7" dy="2">a</tspan><tspan dy="-2">=37.7 kJ/mol</tspan></text>
<rect x="534.6" y="588.7" width="4" height="4" fill="#3a6fc0"/>
<text x="545.50" y="594.30" font-size="9.8" text-anchor="start" fill="#1a1a1a"  stroke="#1a1a1a" stroke-width="0.14">IPA</text>
<circle cx="536.6" cy="602.6" r="2.2" fill="#f8a67a"/>
<text x="545.50" y="606.20" font-size="9.8" text-anchor="start" fill="#1a1a1a"  stroke="#1a1a1a" stroke-width="0.14">IPA + DMS</text>
</svg></body></html>
